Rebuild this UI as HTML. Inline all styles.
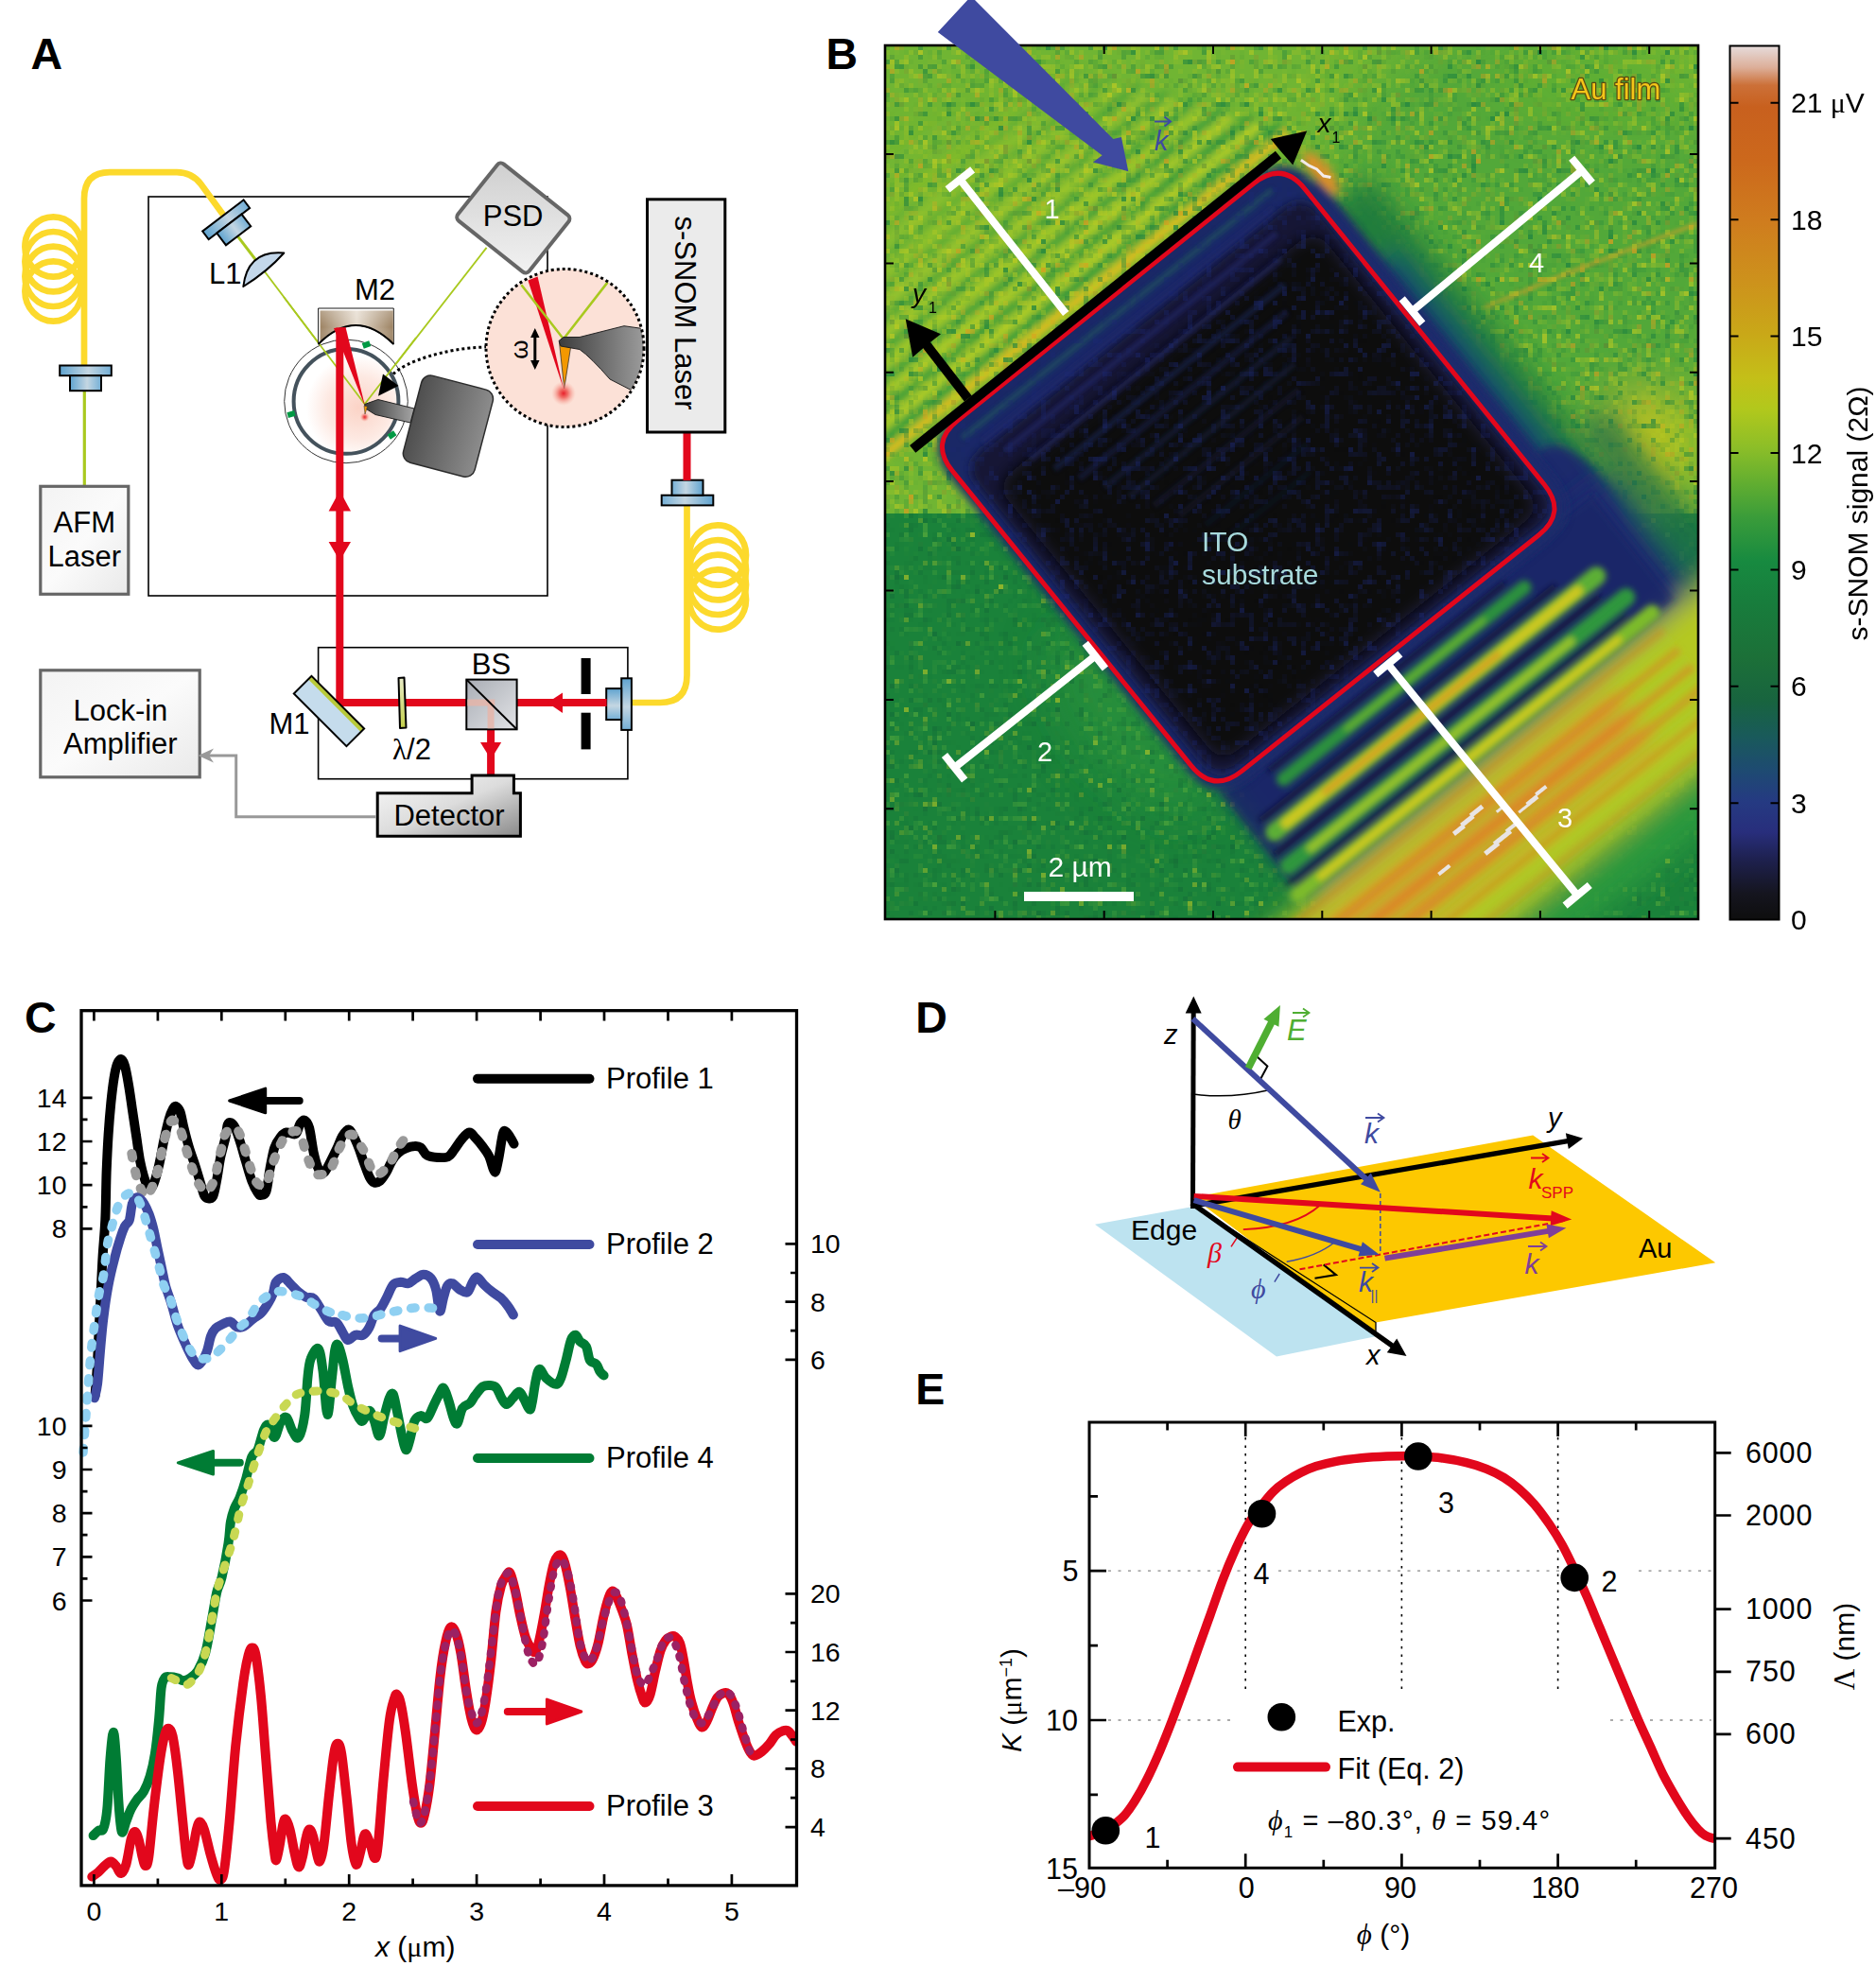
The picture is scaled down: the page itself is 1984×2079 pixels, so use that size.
<!DOCTYPE html>
<html><head><meta charset="utf-8"><title>Figure</title>
<style>
html,body{margin:0;padding:0;background:#fff;}
svg{display:block;}
text{font-family:"Liberation Sans",sans-serif;fill:#000;}
.it{font-style:italic;}
.ser{font-family:"Liberation Serif",serif;}
.b{font-weight:bold;}
</style></head>
<body>
<svg width="1984" height="2079" viewBox="0 0 1984 2079">
<defs>
<linearGradient id="gBlue" x1="0" y1="0" x2="1" y2="0"><stop offset="0" stop-color="#5fa3cf"/><stop offset="0.55" stop-color="#c4d6e2"/><stop offset="1" stop-color="#74afd6"/></linearGradient>
<linearGradient id="gBox" x1="0" y1="0" x2="1" y2="1"><stop offset="0" stop-color="#f3f3f3"/><stop offset="0.5" stop-color="#fbfbfb"/><stop offset="1" stop-color="#e9e9e9"/></linearGradient>
<linearGradient id="gPSD" x1="0" y1="0" x2="1" y2="1"><stop offset="0" stop-color="#cfcfcf"/><stop offset="1" stop-color="#f2f2f2"/></linearGradient>
<linearGradient id="gDet" x1="0" y1="0" x2="1" y2="1"><stop offset="0" stop-color="#fafafa"/><stop offset="0.5" stop-color="#dcdcdc"/><stop offset="1" stop-color="#8a8a8a"/></linearGradient>
<linearGradient id="gHold" x1="0" y1="0" x2="1" y2="0"><stop offset="0" stop-color="#4f4f4f"/><stop offset="1" stop-color="#8c8c8c"/></linearGradient>
<linearGradient id="gArm" x1="0" y1="0" x2="1" y2="0"><stop offset="0" stop-color="#3c3c3c"/><stop offset="1" stop-color="#a5a5a5"/></linearGradient>
<linearGradient id="gM2" x1="0" y1="0" x2="1" y2="0"><stop offset="0" stop-color="#9c8262"/><stop offset="0.5" stop-color="#e6dccf"/><stop offset="1" stop-color="#9c8262"/></linearGradient>
<radialGradient id="gPink" cx="0.62" cy="0.56" r="0.5"><stop offset="0" stop-color="#fbd3c6"/><stop offset="0.6" stop-color="#fde9e2"/><stop offset="1" stop-color="#ffffff"/></radialGradient>
<radialGradient id="gGlow"><stop offset="0" stop-color="#e8202a"/><stop offset="0.35" stop-color="#ee5b55" stop-opacity="0.85"/><stop offset="1" stop-color="#f8b0a0" stop-opacity="0"/></radialGradient>
<linearGradient id="gBS" x1="0" y1="0" x2="1" y2="1"><stop offset="0" stop-color="#a9adb5"/><stop offset="1" stop-color="#e2e3e6"/></linearGradient>
<linearGradient id="gHW" x1="0" y1="0" x2="0" y2="1"><stop offset="0" stop-color="#e9ecc8"/><stop offset="1" stop-color="#c3cf4a"/></linearGradient>
<linearGradient id="gM2b" x1="0" y1="0" x2="0" y2="1"><stop offset="0" stop-color="#fff" stop-opacity="0.25"/><stop offset="0.5" stop-color="#fff" stop-opacity="0"/><stop offset="1" stop-color="#7a6040" stop-opacity="0.35"/></linearGradient>
<clipPath id="cZoom"><circle cx="597.5" cy="368" r="83"/></clipPath>
<g id="coupler"><rect x="-27.3" y="0" width="54.6" height="10.7" fill="url(#gBlue)" stroke="#000" stroke-width="2"/><rect x="-16.5" y="10.7" width="33" height="16" fill="url(#gBlue)" stroke="#000" stroke-width="2"/></g>
</defs>
<rect width="1984" height="2079" fill="#fff"/>

<!-- ================= PANEL A ================= -->
<g id="panelA">
<text x="32.5" y="72.8" class="b" font-size="46.5">A</text>
<!-- enclosure -->
<rect x="157" y="208" width="422" height="422" fill="none" stroke="#000" stroke-width="1.6"/>
<rect x="336.6" y="684.7" width="327.3" height="139" fill="none" stroke="#000" stroke-width="1.6"/>
<!-- fibre AFM -->
<g fill="none" stroke="#fcd92c" stroke-width="6.7">
<path d="M89 386 V210 Q89 182.2 116 182.2 H187 Q203 182.2 212.7 195 L236 227"/>
<ellipse cx="56.4" cy="261" rx="30" ry="31.7"/><ellipse cx="56.4" cy="276.7" rx="30" ry="31.7"/><ellipse cx="56.4" cy="292.3" rx="30" ry="31.7"/><ellipse cx="56.4" cy="308" rx="30" ry="31.7"/>
<path d="M726.5 534 V714 Q726.5 743 698 743 H668"/>
<ellipse cx="759" cy="587" rx="30" ry="31.7"/><ellipse cx="759" cy="602.7" rx="30" ry="31.7"/><ellipse cx="759" cy="618.3" rx="30" ry="31.7"/><ellipse cx="759" cy="634" rx="30" ry="31.7"/>
</g>
<!-- green AFM beams -->
<g fill="none" stroke="#a9c91f" stroke-width="2.6">
<path d="M89.3 412 V514" stroke-width="3.2"/>
<path d="M250 248 L279 286" stroke-width="3"/><path d="M279 286 L385.7 427.3 L514.6 261.8" stroke-width="1.9"/>
</g>
<!-- couplers -->
<use href="#coupler" x="0" y="0" transform="translate(90.5 386.5)"/>
<use href="#coupler" transform="translate(235.9 228) rotate(-37.3)"/>
<use href="#coupler" transform="translate(727 534.4) rotate(180)"/>
<use href="#coupler" transform="translate(667.9 744.6) rotate(90)"/>
<!-- L1 lens -->
<path d="M257.3 303 Q262 264 300.3 267.5 Q283 287 257.3 303 Z" fill="#c3d7ea" stroke="#000" stroke-width="2" stroke-linejoin="round"/>
<text x="221" y="300" font-size="31">L1</text>
<!-- boxes -->
<rect x="42.8" y="514.3" width="93" height="114" fill="url(#gBox)" stroke="#666" stroke-width="3.2"/>
<text x="89.3" y="563" font-size="31" text-anchor="middle">AFM</text>
<text x="89.3" y="599" font-size="31" text-anchor="middle">Laser</text>
<rect x="42.8" y="708.8" width="168.4" height="113" fill="url(#gBox)" stroke="#666" stroke-width="3.2"/>
<text x="127.4" y="762" font-size="31" text-anchor="middle">Lock-in</text>
<text x="127.4" y="797" font-size="31" text-anchor="middle">Amplifier</text>
<!-- sample circle -->
<circle cx="366" cy="424.4" r="65.3" fill="#fff" stroke="#333" stroke-width="1"/>
<circle cx="366" cy="424.4" r="55.4" fill="url(#gPink)" stroke="#44525c" stroke-width="4"/>
<g fill="#009944">
<rect x="-4" y="-3" width="8" height="6" transform="translate(387.5 364.5) rotate(-20)"/>
<rect x="-4" y="-3" width="8" height="6" transform="translate(308 438) rotate(-15)"/>
<rect x="-4" y="-3" width="8" height="6" transform="translate(414.5 460) rotate(-35)"/>
</g>
<!-- green beams over circle -->
<g fill="none" stroke="#a9c91f" stroke-width="1.7"><path d="M300 314 L385.7 427.3 L440 357"/></g>
<!-- M2 -->
<path d="M336.6 326 H416.3 V364 Q376 324 336.6 364 Z" fill="#fff" stroke="#000" stroke-width="0.9"/>
<path d="M338.6 328.5 H415.8 V363.5 Q376 324.5 338.6 362 Z" fill="url(#gM2)"/>
<path d="M338.6 328.5 H415.8 V363.5 Q376 324.5 338.6 362 Z" fill="url(#gM2b)"/>
<path d="M336.6 364 Q376 324 416.3 364" fill="none" stroke="#000" stroke-width="2"/>
<text x="375" y="317" font-size="31">M2</text>
<!-- red beam -->
<g fill="#e2071c" stroke="none">
<rect x="355.3" y="346.5" width="8" height="400.5"/>
<polygon points="353,347 365.5,346 386.2,430"/>
<polygon points="359.3,519 371,540.5 347.6,540.5"/>
<polygon points="359.3,593 371,573 347.6,573"/>
<rect x="355.3" y="739" width="138" height="8"/>
<rect x="546.6" y="739" width="95" height="8"/>
<polygon points="579,743 595,732.5 595,754"/>
<rect x="515.1" y="771" width="8" height="48"/>
<polygon points="519.1,803 530.2,785 508,785"/>
<rect x="722.5" y="458" width="8" height="50"/>
</g>
<!-- cantilever -->
<rect x="-39" y="-47.5" width="78" height="95" rx="10" fill="url(#gHold)" stroke="#2b2b2b" stroke-width="1.5" transform="translate(473.9 450.7) rotate(14.7)"/>
<polygon points="385.7,427.5 399.8,422.5 438,432 434,447 397,438.5 386.5,432" fill="url(#gArm)" stroke="#222" stroke-width="1"/>
<circle cx="385.7" cy="441" r="5" fill="url(#gGlow)"/>
<polygon points="385,429 388.5,430 386,438" fill="#f39800" stroke="#333" stroke-width="0.5"/>
<!-- dotted connector -->
<path d="M416 395.5 C428 383 470 368 514 367" fill="none" stroke="#000" stroke-width="3" stroke-dasharray="3 3"/>
<polygon points="405,395.5 421.5,408 400,418.8" fill="#000"/>
<!-- PSD -->
<rect x="-48.2" y="-38.3" width="96.4" height="76.6" rx="5" fill="url(#gPSD)" stroke="#666" stroke-width="4" transform="translate(542.8 230.5) rotate(38.5)"/>
<text x="542.6" y="239" font-size="31" text-anchor="middle">PSD</text>
<!-- zoom circle -->
<circle cx="597.5" cy="368" r="83.5" fill="#fce1d7"/>
<g clip-path="url(#cZoom)">
<polygon points="558.4,296.5 568.6,292.5 596.2,412" fill="#e2071c"/>
<path d="M551.4 301.2 L595.9 358.5 L642.5 298.6" fill="none" stroke="#a9c91f" stroke-width="2.6"/>
<polygon points="591.5,362 603.5,367.5 596.7,411" fill="#f39800" stroke="#333" stroke-width="0.8"/>
<path d="M591 360.5 L596 356.5 L613 356.5 L660 344.7 L690 349 L690 415 L666.5 412 L645 401 Q625 378 613 369.5 L593 366 Z" fill="url(#gArm)" stroke="#222" stroke-width="1"/>
<circle cx="596" cy="416" r="13" fill="url(#gGlow)"/>
</g>
<circle cx="597.5" cy="368" r="83.5" fill="none" stroke="#000" stroke-width="3" stroke-dasharray="3 3"/>
<path d="M565.8 352 V386" stroke="#000" stroke-width="3" fill="none"/>
<polygon points="565.8,347 570.5,357 561.1,357" fill="#000"/><polygon points="565.8,391 570.5,381 561.1,381" fill="#000"/>
<text font-size="26" text-anchor="middle" transform="translate(558 369.5) rotate(-90)">ω</text>
<!-- s-SNOM laser -->
<rect x="684.5" y="210.8" width="82.3" height="246.2" fill="#ebebeb" stroke="#000" stroke-width="3"/>
<text font-size="31" text-anchor="middle" transform="translate(713.5 331) rotate(90)">s-SNOM Laser</text>
<!-- M1 -->
<g transform="translate(348 752) rotate(45)"><rect x="-39.4" y="-13.2" width="78.7" height="26.4" fill="#c5dcec" stroke="none"/><rect x="-39.4" y="-13.2" width="78.7" height="5" fill="#b9ca3a"/><rect x="-39.4" y="-13.2" width="78.7" height="26.4" fill="none" stroke="#000" stroke-width="2"/></g>
<text x="284.5" y="776" font-size="31">M1</text>
<!-- half wave plate -->
<polygon points="421.5,717 427.5,716.5 429.5,769.5 423,770" fill="url(#gHW)" stroke="#000" stroke-width="2" stroke-linejoin="round"/>
<text x="415" y="803" font-size="31"><tspan class="ser" font-size="31">λ</tspan>/2</text>
<!-- BS -->
<rect x="493.3" y="718.6" width="53.3" height="52.7" fill="url(#gBS)" stroke="#000" stroke-width="2"/>
<rect x="494.3" y="739.5" width="29" height="7" fill="#e7b4a8" opacity="0.8"/><rect x="515.6" y="743" width="7" height="27.3" fill="#e7b4a8" opacity="0.8"/>
<path d="M493.3 718.6 L546.6 771.3" stroke="#000" stroke-width="2"/>
<text x="519.5" y="713" font-size="31" text-anchor="middle">BS</text>
<!-- aperture -->
<rect x="614.6" y="696" width="10" height="38" fill="#000"/><rect x="614.6" y="753.7" width="10" height="38.7" fill="#000"/>
<!-- detector -->
<path d="M399.2 838.7 H499.1 V820 H543.4 V838.7 H550.4 V884.2 H399.2 Z" fill="url(#gDet)" stroke="#000" stroke-width="3"/>
<text x="475" y="873" font-size="31" text-anchor="middle">Detector</text>
<!-- gray wire -->
<path d="M397.7 863.8 H249.7 V799 H219" fill="none" stroke="#999" stroke-width="3"/>
<polygon points="209.5,799 226,791.5 221,799 226,806.5" fill="#999"/>
</g>
<!--BEGIN B-->
<!-- ================= PANEL B ================= -->
<g id="panelB">
<defs>
<clipPath id="cImg"><rect x="936" y="48" width="860" height="924"/></clipPath>
<clipPath id="cSq"><path d="M1007.1 497.8 Q983.2 468.3 1012.9 444.6 L1326.2 193.8 Q1355.9 170.1 1379.8 199.6 L1633.3 512.5 Q1657.2 542.0 1627.5 565.7 L1313.3 815.4 Q1283.6 839.1 1259.7 809.6 Z"/></clipPath>
<filter id="fB2" x="-40%" y="-40%" width="180%" height="180%"><feGaussianBlur stdDeviation="2"/></filter>
<filter id="fB3" x="-40%" y="-40%" width="180%" height="180%"><feGaussianBlur stdDeviation="3"/></filter>
<filter id="fB5" x="-40%" y="-40%" width="180%" height="180%"><feGaussianBlur stdDeviation="5"/></filter>
<filter id="fB8" x="-40%" y="-40%" width="180%" height="180%"><feGaussianBlur stdDeviation="8"/></filter>
<filter id="fB14" x="-40%" y="-40%" width="180%" height="180%"><feGaussianBlur stdDeviation="14"/></filter>
<filter id="fB25" x="-40%" y="-40%" width="180%" height="180%"><feGaussianBlur stdDeviation="25"/></filter>
<filter id="fPixT" x="0" y="0" width="100%" height="100%" filterUnits="objectBoundingBox" primitiveUnits="userSpaceOnUse" color-interpolation-filters="sRGB"><feTurbulence type="fractalNoise" baseFrequency="0.13" numOctaves="2" seed="3" result="n"/><feColorMatrix in="n" type="matrix" values="0 0 0 0 0.72  0 0 0 0 0.79  0 0 0 0 0.14  4.2 0 0 0 -2.2" result="m0"/><feColorMatrix in="n" type="matrix" values="0 0 0 0 0.13  0 0 0 0 0.52  0 0 0 0 0.25  0 4.2 0 0 -2.3" result="m1"/><feColorMatrix in="n" type="matrix" values="0 0 0 0 0.85  0 0 0 0 0.62  0 0 0 0 0.12  0 0 5 0 -3.25" result="m2"/><feMerge result="c"><feMergeNode in="m0"/><feMergeNode in="m1"/><feMergeNode in="m2"/></feMerge><feFlood x="938" y="50" width="1" height="1" flood-color="#000" result="f"/><feComposite in="f" in2="f" operator="over" x="936" y="48" width="5" height="5" result="t0"/><feTile in="t0" result="dots"/><feComposite in="c" in2="dots" operator="in" result="s"/><feMorphology in="s" operator="dilate" radius="2"/></filter>
<filter id="fPixB" x="0" y="0" width="100%" height="100%" filterUnits="objectBoundingBox" primitiveUnits="userSpaceOnUse" color-interpolation-filters="sRGB"><feTurbulence type="fractalNoise" baseFrequency="0.13" numOctaves="2" seed="11" result="n"/><feColorMatrix in="n" type="matrix" values="0 0 0 0 0.36  0 0 0 0 0.68  0 0 0 0 0.24  4.0 0 0 0 -2.35" result="m0"/><feColorMatrix in="n" type="matrix" values="0 0 0 0 0.08  0 0 0 0 0.42  0 0 0 0 0.22  0 3.5 0 0 -2.0" result="m1"/><feColorMatrix in="n" type="matrix" values="0 0 0 0 0.75  0 0 0 0 0.80  0 0 0 0 0.15  0 0 5 0 -3.3" result="m2"/><feMerge result="c"><feMergeNode in="m0"/><feMergeNode in="m1"/><feMergeNode in="m2"/></feMerge><feFlood x="938" y="545" width="1" height="1" flood-color="#000" result="f"/><feComposite in="f" in2="f" operator="over" x="936" y="543" width="5" height="5" result="t0"/><feTile in="t0" result="dots"/><feComposite in="c" in2="dots" operator="in" result="s"/><feMorphology in="s" operator="dilate" radius="2"/></filter>
<filter id="fPixK" x="0" y="0" width="100%" height="100%" filterUnits="objectBoundingBox" primitiveUnits="userSpaceOnUse" color-interpolation-filters="sRGB"><feTurbulence type="fractalNoise" baseFrequency="0.11" numOctaves="2" seed="19" result="n"/><feColorMatrix in="n" type="matrix" values="0 0 0 0 0.11  0 0 0 0 0.16  0 0 0 0 0.45  4.0 0 0 0 -2.1" result="m0"/><feMerge result="c"><feMergeNode in="m0"/></feMerge><feFlood x="938" y="50" width="1" height="1" flood-color="#000" result="f"/><feComposite in="f" in2="f" operator="over" x="936" y="48" width="5" height="5" result="t0"/><feTile in="t0" result="dots"/><feComposite in="c" in2="dots" operator="in" result="s"/><feMorphology in="s" operator="dilate" radius="2"/></filter>
<linearGradient id="gCB" x1="0" y1="1" x2="0" y2="0">
<stop offset="0.000" stop-color="#0e0e0e"/>
<stop offset="0.030" stop-color="#15151f"/>
<stop offset="0.070" stop-color="#1e2150"/>
<stop offset="0.100" stop-color="#282e7c"/>
<stop offset="0.135" stop-color="#253a82"/>
<stop offset="0.170" stop-color="#1e4a72"/>
<stop offset="0.210" stop-color="#195a5a"/>
<stop offset="0.250" stop-color="#18643f"/>
<stop offset="0.300" stop-color="#1c7038"/>
<stop offset="0.360" stop-color="#187c3c"/>
<stop offset="0.410" stop-color="#178a40"/>
<stop offset="0.460" stop-color="#3a9c3a"/>
<stop offset="0.500" stop-color="#62ae30"/>
<stop offset="0.540" stop-color="#8cbe28"/>
<stop offset="0.585" stop-color="#b2c81c"/>
<stop offset="0.620" stop-color="#c4bf18"/>
<stop offset="0.670" stop-color="#c9a818"/>
<stop offset="0.730" stop-color="#cd921c"/>
<stop offset="0.800" stop-color="#cf7c1e"/>
<stop offset="0.870" stop-color="#cc681c"/>
<stop offset="0.930" stop-color="#c8601e"/>
<stop offset="0.955" stop-color="#cc7038"/>
<stop offset="0.975" stop-color="#dcae98"/>
<stop offset="1.000" stop-color="#e6dcdc"/>
</linearGradient>
</defs>
<g clip-path="url(#cImg)">
<rect x="936" y="48" width="860" height="495" fill="#70b533"/>
<rect x="936" y="543" width="860" height="429" fill="#1a823a"/>
<g filter="url(#fB25)">
<ellipse cx="1620" cy="250" rx="230" ry="230" fill="#46a23a" opacity="0.7"/>
<ellipse cx="1738" cy="480" rx="42" ry="62" fill="#c6c61e" opacity="1"/>
<ellipse cx="1080" cy="300" rx="170" ry="170" fill="#8cc02c" opacity="0.5"/>
<ellipse cx="1700" cy="90" rx="120" ry="50" fill="#74b830" opacity="0.4"/>
<ellipse cx="1200" cy="760" rx="120" ry="60" fill="#2f9a3e" opacity="0.5" transform="rotate(51 1200 760)"/>
</g>
<g transform="translate(983.2 468.3) rotate(-38.66)">
<g filter="url(#fB3)">
<rect x="-60" y="-24.5" width="560" height="9" fill="#dcbc22" opacity="1.05"/>
<rect x="-60" y="-37.0" width="560" height="9" fill="#2f963c" opacity="0.72"/>
<rect x="-54" y="-49.5" width="536" height="9" fill="#bcd026" opacity="0.76"/>
<rect x="-54" y="-62.0" width="536" height="9" fill="#2f963c" opacity="0.64"/>
<rect x="-48" y="-74.5" width="512" height="9" fill="#bcd026" opacity="0.66"/>
<rect x="-48" y="-87.0" width="512" height="9" fill="#2f963c" opacity="0.56"/>
<rect x="-42" y="-99.5" width="488" height="9" fill="#bcd026" opacity="0.56"/>
<rect x="-42" y="-112.0" width="488" height="9" fill="#2f963c" opacity="0.48"/>
<rect x="-36" y="-124.5" width="464" height="9" fill="#bcd026" opacity="0.47"/>
<rect x="-36" y="-137.0" width="464" height="9" fill="#2f963c" opacity="0.40"/>
<rect x="-30" y="-149.5" width="440" height="9" fill="#bcd026" opacity="0.38"/>
<rect x="-30" y="-162.0" width="440" height="9" fill="#2f963c" opacity="0.32"/>
<rect x="-24" y="-174.5" width="416" height="9" fill="#bcd026" opacity="0.28"/>
<rect x="-24" y="-187.0" width="416" height="9" fill="#2f963c" opacity="0.24"/>
<rect x="-18" y="-199.5" width="392" height="9" fill="#bcd026" opacity="0.18"/>
<rect x="-18" y="-212.0" width="392" height="9" fill="#2f963c" opacity="0.16"/>
<rect x="-12" y="-224.5" width="368" height="9" fill="#bcd026" opacity="0.09"/>
<rect x="-12" y="-237.0" width="368" height="9" fill="#2f963c" opacity="0.08"/>
</g></g>
<rect x="936" y="48" width="860" height="495" filter="url(#fPixT)" opacity="0.75"/>
<rect x="936" y="543" width="860" height="429" filter="url(#fPixB)" opacity="0.7"/>
<path d="M1570 325 L1650 292 L1796 236" stroke="#d0a028" stroke-width="3.5" fill="none" opacity="0.75" filter="url(#fB2)"/>
<g transform="translate(1355.9 170.1) rotate(50.99)">
<g filter="url(#fB14)">
<rect x="70" y="-62" width="470" height="64" fill="#1c7a3c" opacity="0.95"/>
<rect x="150" y="-34" width="390" height="40" fill="#1a3c74" opacity="0.9"/>
</g>
<g filter="url(#fB5)">
<rect x="40" y="-17" width="480" height="22" fill="#1c2a6c"/>
<ellipse cx="36" cy="-24" rx="28" ry="10" fill="#d8902a"/>
<ellipse cx="470" cy="-22" rx="60" ry="30" fill="#1c2a6c"/>
</g>
<path d="M12 -16 l10 -3 l8 -4 l10 -1 l6 -5" stroke="#f4ecec" stroke-width="3" fill="none"/>
</g>
<g transform="translate(1283.6 839.1) rotate(-38.49)">
<g filter="url(#fB14)">
<rect x="18" y="-5" width="515" height="160" fill="#1c2c70"/>
<rect x="-200" y="150" width="760" height="150" fill="#b4c822"/>
<rect x="-120" y="176" width="520" height="72" fill="#d8962a"/>
<rect x="-200" y="305" width="760" height="50" fill="#2c983c"/>
<rect x="540" y="-60" width="40" height="210" fill="#1d6a4a" opacity="0.8"/>
</g>
<g filter="url(#fB5)">
<rect x="6" y="2" width="504" height="140" fill="#1b2766" opacity="0.85"/>
</g>
<g filter="url(#fB3)" id="brs">
<rect x="-160" y="156.5" width="640" height="9" fill="#d8821e" opacity="0.40"/>
<rect x="-160" y="169.5" width="640" height="8" fill="#a8c824" opacity="0.32"/>
<rect x="-160" y="182.5" width="640" height="9" fill="#d8821e" opacity="0.50"/>
<rect x="-160" y="195.5" width="640" height="8" fill="#a8c824" opacity="0.40"/>
<rect x="-160" y="205.5" width="640" height="9" fill="#d8821e" opacity="0.55"/>
<rect x="-160" y="218.5" width="640" height="8" fill="#a8c824" opacity="0.44"/>
<rect x="-160" y="229.5" width="640" height="9" fill="#d8821e" opacity="0.50"/>
<rect x="-160" y="242.5" width="640" height="8" fill="#a8c824" opacity="0.40"/>
<rect x="-160" y="255.5" width="640" height="9" fill="#d8821e" opacity="0.40"/>
<rect x="-160" y="268.5" width="640" height="8" fill="#a8c824" opacity="0.32"/>
<rect x="-160" y="280.5" width="640" height="9" fill="#d8821e" opacity="0.30"/>
<rect x="-160" y="293.5" width="640" height="8" fill="#a8c824" opacity="0.24"/>
<rect x="60" y="26.5" width="340" height="15" rx="7" fill="#2a8f3e" opacity="1.00"/>
<rect x="150" y="31.0" width="190" height="6" rx="3" fill="#6ab430" opacity="0.90"/>
<rect x="15" y="62.0" width="455" height="20" rx="10" fill="#5cae34" opacity="1.00"/>
<rect x="35" y="66.5" width="405" height="11" rx="5" fill="#cdc81e" opacity="1.00"/>
<rect x="90" y="69.5" width="240" height="5" rx="2" fill="#dc8c1e" opacity="0.85"/>
<rect x="5" y="99.5" width="475" height="19" rx="9" fill="#2f963c" opacity="1.00"/>
<rect x="40" y="104.5" width="360" height="9" rx="4" fill="#9cc42a" opacity="0.95"/>
<rect x="-5" y="130.5" width="495" height="17" rx="8" fill="#7cba2c" opacity="1.00"/>
<rect x="30" y="135.0" width="410" height="8" rx="4" fill="#ccc81e" opacity="1.00"/>
<rect x="60" y="14.5" width="320" height="5" rx="2" fill="#10122c" opacity="0.90"/>
<rect x="20" y="50.5" width="400" height="5" rx="2" fill="#10122c" opacity="0.90"/>
<rect x="10" y="88.5" width="440" height="5" rx="2" fill="#10122c" opacity="0.90"/>
<rect x="0" y="122.0" width="460" height="4" rx="2" fill="#10122c" opacity="0.90"/>
</g>
<g fill="#e8e4e4"><path d="M172 189 h12 v-2 h14 v-2 h16 v5 h-14 v2 h-14 v2 h-14z M185 226 h14 v-2 h18 v-2 h18 v4 h-14 v3 h-18 v2 h-18z M240 215 h12 v-2 h14 v-2 h14 v4 h-14 v3 h-26z M133 213 h15 v4 h-15z M222 200 h9 v3 h-9z"/></g>
</g>
<path d="M1005.0 504.7 Q976.0 468.9 1011.9 440.2 L1326.8 188.2 Q1362.8 159.5 1391.7 195.2 L1643.9 506.6 Q1672.9 542.3 1636.9 570.9 L1321.2 822.0 Q1285.2 850.6 1256.2 814.9 Z" fill="#1b2a6c" filter="url(#fB5)"/>
<path d="M1007.1 497.8 Q983.2 468.3 1012.9 444.6 L1326.2 193.8 Q1355.9 170.1 1379.8 199.6 L1633.3 512.5 Q1657.2 542.0 1627.5 565.7 L1313.3 815.4 Q1283.6 839.1 1259.7 809.6 Z" fill="#1a2866"/>
<g clip-path="url(#cSq)">
<path d="M1034.6 514.3 Q1017.0 492.5 1038.8 475.0 L1356.1 221.2 Q1378.0 203.7 1395.6 225.4 L1632.0 517.3 Q1649.7 539.1 1627.7 556.5 L1309.7 809.4 Q1287.8 826.8 1270.2 805.1 Z" fill="#131735" filter="url(#fB5)"/>
<path d="M1067.7 531.3 Q1052.6 512.7 1071.3 497.7 L1372.2 256.9 Q1390.9 242.0 1406.1 260.6 L1615.4 519.0 Q1630.5 537.7 1611.7 552.6 L1310.1 792.4 Q1291.4 807.4 1276.3 788.7 Z" fill="#0b0b0f" filter="url(#fB8)"/>
<g transform="translate(983.2 468.3) rotate(-38.66)" filter="url(#fB2)">
<rect x="44" y="30.5" width="395" height="7" fill="#1d2a6e" opacity="0.50"/>
<rect x="57" y="52.5" width="368" height="7" fill="#1d2a6e" opacity="0.55"/>
<rect x="72" y="76.5" width="340" height="7" fill="#1d2a6e" opacity="0.50"/>
<rect x="86" y="100.5" width="311" height="7" fill="#1d2a6e" opacity="0.42"/>
<rect x="100" y="124.5" width="282" height="7" fill="#1d2a6e" opacity="0.36"/>
<rect x="115" y="148.5" width="253" height="7" fill="#1d2a6e" opacity="0.30"/>
<rect x="129" y="172.5" width="224" height="7" fill="#1d2a6e" opacity="0.26"/>
<rect x="144" y="196.5" width="196" height="7" fill="#1d2a6e" opacity="0.22"/>
<rect x="159" y="221.5" width="166" height="7" fill="#1d2a6e" opacity="0.18"/>
<rect x="174" y="246.5" width="136" height="7" fill="#1d2a6e" opacity="0.15"/>
<rect x="189" y="271.5" width="106" height="7" fill="#1d2a6e" opacity="0.12"/>
<rect x="30" y="14" width="420" height="7" fill="#1f5c5e" opacity="0.5"/>
</g>
<rect x="936" y="48" width="860" height="924" filter="url(#fPixK)" opacity="0.5"/>
</g>
</g>
<path d="M1007.1 497.8 Q983.2 468.3 1012.9 444.6 L1326.2 193.8 Q1355.9 170.1 1379.8 199.6 L1633.3 512.5 Q1657.2 542.0 1627.5 565.7 L1313.3 815.4 Q1283.6 839.1 1259.7 809.6 Z" fill="none" stroke="#e2071c" stroke-width="5"/>
<g fill="#000" stroke="none">
<path d="M965.2 474.8 L1352 163.6" stroke="#000" stroke-width="10" fill="none"/>
<polygon points="1382.2,138.4 1343.8,146.9 1355,160.5 1367.3,174.6"/>
<path d="M1023.8 421.5 L977 361" stroke="#000" stroke-width="10" fill="none"/>
<polygon points="957.7,337.3 995,353.3 980,365 965.2,377.8"/>
</g>
<text x="1221" y="159" font-size="29" class="it" style="fill:#3f4aa0">k</text>
<path d="M1221 128.5 H1237 M1231.5 123.5 L1238 128.5 L1231.5 133.5" fill="none" stroke="#3f4aa0" stroke-width="2"/>
<path d="M1015.3 189.8 L1127.2 331.6 M1002.0 200.3 L1028.6 179.3" fill="none" stroke="#fff" stroke-width="8"/>
<path d="M1158.3 693.6 L1009.6 811.7 M1147.7 680.3 L1168.9 706.9 M999.0 798.4 L1020.2 825.0" fill="none" stroke="#fff" stroke-width="8"/>
<path d="M1467.8 702.3 L1668.2 946.8 M1454.7 713.1 L1480.9 691.5 M1655.1 957.6 L1681.3 936.0" fill="none" stroke="#fff" stroke-width="8"/>
<path d="M1493.5 329.0 L1673.0 180.3 M1504.3 342.1 L1482.7 315.9 M1683.8 193.4 L1662.2 167.2" fill="none" stroke="#fff" stroke-width="8"/>
<g font-size="29" style="fill:#fff" fill="#fff">
<text x="1104.5" y="230.5" style="fill:#fff">1</text>
<text x="1097" y="804.5" style="fill:#fff">2</text>
<text x="1647" y="874.5" style="fill:#fff">3</text>
<text x="1617" y="287.5" style="fill:#fff">4</text>
<text x="1108.5" y="927" font-size="30" style="fill:#fff">2 µm</text>
</g>
<rect x="1083" y="943" width="116" height="10" fill="#fff"/>
<text x="1393.5" y="139.5" font-size="28" class="it">x</text><text x="1408.5" y="150.5" font-size="16">1</text>
<text x="965" y="320" font-size="28" class="it">y</text><text x="982" y="331" font-size="16">1</text>
<text x="1271" y="582.5" font-size="30" style="fill:#a8dadc">ITO</text><text x="1271" y="618" font-size="30" style="fill:#a8dadc">substrate</text>
<text x="1661.5" y="104.6" font-size="31" style="fill:#5a4a10;stroke:#5a4a10;stroke-width:2.5;stroke-linejoin:round">Au film</text>
<text x="1661.5" y="104.6" font-size="31" style="fill:#f5c518">Au film</text>
<rect x="936" y="48" width="860" height="924" fill="none" stroke="#000" stroke-width="2.6"/>
<path d="M1052.4 48 v9 M1052.4 972 v-9 M1167.7 48 v9 M1167.7 972 v-9 M1283.0 48 v9 M1283.0 972 v-9 M1398.3 48 v9 M1398.3 972 v-9 M1513.6 48 v9 M1513.6 972 v-9 M1628.9 48 v9 M1628.9 972 v-9 M1744.2 48 v9 M1744.2 972 v-9 M936 163.1 h9 M1796 163.1 h-9 M936 278.4 h9 M1796 278.4 h-9 M936 393.8 h9 M1796 393.8 h-9 M936 509.1 h9 M1796 509.1 h-9 M936 624.5 h9 M1796 624.5 h-9 M936 739.9 h9 M1796 739.9 h-9 M936 855.2 h9 M1796 855.2 h-9" stroke="#000" stroke-width="2" fill="none"/>
<polygon points="991.8,34.1 1027,-4 1177.3,147.1 1185.9,145 1193.3,181.2 1156,171.6 1165.6,164.2" fill="#3f4aa0"/>
<rect x="1829.5" y="48.5" width="52" height="924" fill="url(#gCB)" stroke="#000" stroke-width="2"/>
<text x="1894" y="983.1" font-size="30">0</text>
<text x="1894" y="859.7" font-size="30">3</text>
<text x="1894" y="736.3" font-size="30">6</text>
<text x="1894" y="612.9" font-size="30">9</text>
<text x="1894" y="489.5" font-size="30">12</text>
<text x="1894" y="366.1" font-size="30">15</text>
<text x="1894" y="242.7" font-size="30">18</text>
<text x="1894" y="119.3" font-size="30">21 <tspan class="ser" font-size="30">μ</tspan>V</text>
<path d="M1829.5 849.2 h9 M1881.5 849.2 h-9 M1829.5 725.8 h9 M1881.5 725.8 h-9 M1829.5 602.4 h9 M1881.5 602.4 h-9 M1829.5 479.0 h9 M1881.5 479.0 h-9 M1829.5 355.6 h9 M1881.5 355.6 h-9 M1829.5 232.2 h9 M1881.5 232.2 h-9 M1829.5 108.8 h9 M1881.5 108.8 h-9" stroke="#000" stroke-width="2" fill="none"/>
<text font-size="30" text-anchor="middle" transform="translate(1975 543) rotate(-90)">s-SNOM signal (2Ω)</text>
<text x="873.5" y="72.8" class="b" font-size="46.5">B</text>
</g>
<!--END B-->
<!--BEGIN C-->
<!-- ================= PANEL C ================= -->
<g id="panelC">
<text x="26" y="1092" class="b" font-size="46.5">C</text>
<clipPath id="cC"><rect x="80" y="1069" width="762" height="925"/></clipPath>
<g fill="none" stroke-linecap="round" stroke-linejoin="round" clip-path="url(#cC)">
<path d="M100.5 1476.0 C100.8 1471.7 101.8 1461.0 102.5 1450.0 C103.2 1439.0 103.8 1423.3 104.5 1410.0 C105.2 1396.7 105.8 1383.3 106.5 1370.0 C107.2 1356.7 107.7 1343.3 108.5 1330.0 C109.3 1316.7 110.6 1305.0 111.3 1290.0 C112.0 1275.0 112.1 1254.9 112.6 1239.9 C113.2 1224.9 113.8 1212.1 114.6 1199.9 C115.4 1187.7 116.3 1176.6 117.3 1166.6 C118.3 1156.6 119.5 1146.8 120.6 1139.9 C121.7 1133.1 122.7 1128.6 123.9 1125.3 C125.2 1122.0 126.6 1119.7 127.9 1120.0 C129.3 1120.2 130.6 1122.2 131.9 1126.6 C133.3 1131.1 134.6 1138.8 135.9 1146.6 C137.3 1154.4 138.6 1164.4 139.9 1173.3 C141.3 1182.1 142.6 1191.0 143.9 1199.9 C145.3 1208.8 146.4 1218.6 147.9 1226.6 C149.5 1234.6 151.6 1242.8 153.3 1247.9 C154.9 1253.0 156.4 1256.6 157.9 1257.2 C159.5 1257.9 160.9 1255.9 162.6 1251.9 C164.2 1247.9 166.1 1240.8 167.9 1233.2 C169.7 1225.7 171.5 1214.8 173.2 1206.6 C175.0 1198.4 177.0 1189.5 178.6 1183.9 C180.1 1178.4 181.3 1175.6 182.6 1173.3 C183.8 1170.9 184.6 1169.5 185.9 1169.9 C187.2 1170.4 189.1 1172.0 190.6 1175.9 C192.0 1179.8 193.0 1187.0 194.6 1193.3 C196.1 1199.5 197.9 1206.6 199.9 1213.2 C201.9 1219.9 204.6 1227.0 206.6 1233.2 C208.6 1239.4 210.3 1245.4 211.9 1250.6 C213.4 1255.7 214.6 1261.1 215.9 1263.9 C217.2 1266.7 218.3 1267.0 219.9 1267.2 C221.4 1267.4 223.7 1268.4 225.2 1265.2 C226.8 1262.0 227.9 1254.8 229.2 1247.9 C230.5 1241.0 231.7 1231.5 233.2 1223.9 C234.8 1216.4 237.3 1208.3 238.5 1202.6 C239.8 1196.9 239.8 1192.1 240.7 1189.5 C241.6 1187.0 242.6 1186.6 243.9 1187.1 C245.2 1187.7 247.0 1189.1 248.7 1192.7 C250.4 1196.3 252.4 1202.9 254.3 1208.7 C256.2 1214.6 257.9 1221.3 259.9 1227.9 C261.9 1234.6 264.2 1243.1 266.3 1248.7 C268.4 1254.3 271.1 1259.0 272.7 1261.5 C274.3 1264.0 274.4 1264.2 275.9 1263.9 C277.4 1263.6 279.9 1264.6 281.5 1259.9 C283.1 1255.2 284.0 1243.6 285.5 1235.9 C287.0 1228.2 288.4 1219.1 290.3 1213.5 C292.2 1207.9 294.6 1205.0 296.7 1202.3 C298.8 1199.7 300.4 1198.1 303.1 1197.5 C305.7 1197.0 310.3 1200.7 312.7 1199.1 C315.1 1197.5 315.9 1190.3 317.5 1187.9 C319.1 1185.5 320.7 1183.9 322.3 1184.7 C323.9 1185.5 325.5 1186.9 327.1 1192.7 C328.7 1198.6 330.3 1212.7 331.9 1219.9 C333.5 1227.1 335.1 1232.5 336.7 1235.9 C338.3 1239.4 339.9 1240.8 341.5 1240.7 C343.0 1240.6 343.6 1239.3 346.0 1235.2 C348.3 1231.0 352.9 1221.6 355.6 1216.0 C358.3 1210.4 359.9 1205.2 362.0 1201.6 C364.1 1198.0 366.4 1194.4 368.4 1194.4 C370.4 1194.4 372.1 1198.2 374.0 1201.6 C375.8 1204.9 377.7 1209.6 379.6 1214.4 C381.4 1219.2 383.3 1225.3 385.2 1230.4 C387.0 1235.4 389.0 1241.4 390.8 1244.8 C392.5 1248.1 393.7 1249.7 395.6 1250.4 C397.4 1251.0 399.8 1250.5 402.0 1248.8 C404.1 1247.0 406.2 1243.6 408.4 1240.0 C410.5 1236.4 412.6 1230.6 414.8 1227.2 C416.9 1223.7 418.8 1221.3 421.2 1219.2 C423.6 1217.0 426.2 1215.6 429.2 1214.4 C432.1 1213.2 436.1 1212.1 438.7 1212.0 C441.4 1211.8 443.0 1212.0 445.1 1213.6 C447.3 1215.2 448.6 1219.8 451.5 1221.6 C454.5 1223.3 459.0 1223.7 462.7 1224.0 C466.5 1224.2 471.0 1224.5 473.9 1223.2 C476.9 1221.8 477.9 1219.0 480.3 1216.0 C482.7 1212.9 485.7 1207.8 488.3 1204.8 C491.0 1201.7 493.9 1197.8 496.3 1197.6 C498.7 1197.3 500.3 1200.6 502.7 1203.2 C505.1 1205.7 508.3 1209.6 510.7 1212.8 C513.1 1216.0 515.2 1218.4 517.1 1222.4 C519.0 1226.4 520.7 1234.1 521.9 1236.8 C523.1 1239.4 523.4 1240.5 524.3 1238.4 C525.2 1236.2 526.4 1229.6 527.5 1224.0 C528.6 1218.4 529.8 1209.4 530.7 1204.8 C531.6 1200.1 531.9 1196.8 533.1 1196.0 C534.3 1195.2 536.2 1197.7 537.9 1200.0 C539.6 1202.2 542.6 1208.0 543.5 1209.6" stroke="#000" stroke-width="10"/>
<path d="M139.3 1219.9 C139.9 1223.2 141.9 1234.3 143.3 1239.9 C144.6 1245.4 145.4 1249.0 147.3 1253.2 C149.1 1257.4 151.8 1266.1 154.6 1265.2 C157.4 1264.3 161.5 1254.3 163.9 1247.9 C166.4 1241.4 167.7 1233.2 169.2 1226.6 C170.8 1219.9 171.7 1213.9 173.2 1207.9 C174.8 1201.9 176.9 1194.5 178.6 1190.6 C180.2 1186.7 181.2 1183.9 183.2 1184.6 C185.2 1185.3 188.5 1190.0 190.6 1194.6 C192.7 1199.1 194.1 1206.1 195.9 1211.9 C197.7 1217.7 199.4 1223.9 201.2 1229.2 C203.0 1234.6 204.8 1239.7 206.6 1243.9 C208.3 1248.1 209.9 1251.9 211.9 1254.6 C213.9 1257.2 216.1 1261.0 218.6 1259.9 C221.0 1258.8 224.4 1253.4 226.5 1247.9 C228.7 1242.3 229.9 1232.3 231.2 1226.6 C232.5 1220.8 233.8 1217.0 234.5 1213.2 C235.3 1209.5 234.9 1206.8 235.9 1203.9 C236.9 1201.0 239.0 1197.7 240.7 1195.9 C242.4 1194.2 244.4 1193.5 246.3 1193.5 C248.2 1193.5 249.9 1192.6 251.9 1195.9 C253.9 1199.3 255.9 1206.3 258.3 1213.5 C260.7 1220.7 263.9 1232.7 266.3 1239.1 C268.7 1245.5 270.2 1249.8 272.7 1251.9 C275.2 1254.0 278.8 1255.6 281.5 1251.9 C284.2 1248.2 286.4 1235.9 288.7 1229.5 C291.0 1223.1 293.0 1218.1 295.1 1213.5 C297.2 1209.0 298.6 1205.3 301.5 1202.3 C304.4 1199.4 309.7 1195.7 312.7 1195.9 C315.6 1196.2 317.2 1199.9 319.1 1203.9 C320.9 1207.9 322.0 1214.6 323.9 1219.9 C325.7 1225.3 328.1 1232.2 330.3 1235.9 C332.4 1239.6 333.8 1241.9 336.7 1242.3 C339.6 1242.7 344.7 1240.9 347.6 1238.4 C350.5 1235.8 352.1 1231.2 354.0 1227.2 C355.9 1223.2 356.9 1218.4 358.8 1214.4 C360.7 1210.4 362.8 1205.6 365.2 1203.2 C367.6 1200.8 370.5 1198.6 373.2 1200.0 C375.8 1201.3 378.9 1207.7 381.2 1211.2 C383.4 1214.6 384.9 1216.8 386.8 1220.8 C388.6 1224.8 390.4 1231.7 392.4 1235.2 C394.4 1238.6 396.6 1241.0 398.8 1241.6 C400.9 1242.1 402.8 1240.5 405.2 1238.4 C407.6 1236.2 410.8 1232.5 413.2 1228.8 C415.6 1225.0 417.2 1220.0 419.6 1216.0 C422.0 1212.0 425.7 1207.0 427.6 1204.8 C429.4 1202.5 430.2 1202.8 430.8 1202.4" stroke="#9a9a9a" stroke-width="10" stroke-dasharray="4.5 14.5"/>
<path d="M98.6 1941.1 C99.5 1940.2 102.2 1937.0 104.0 1935.8 C105.8 1934.6 107.8 1937.7 109.3 1933.9 C110.9 1930.1 112.1 1925.5 113.3 1913.1 C114.5 1900.8 115.4 1873.4 116.5 1859.8 C117.6 1846.3 118.9 1831.8 120.0 1831.8 C121.0 1831.8 122.0 1847.2 122.9 1859.8 C123.8 1872.5 124.6 1894.9 125.6 1907.8 C126.5 1920.7 127.5 1934.0 128.8 1937.1 C130.1 1940.2 131.7 1930.5 133.3 1926.5 C134.9 1922.5 136.6 1917.1 138.6 1913.1 C140.6 1909.1 143.1 1905.6 145.3 1902.5 C147.5 1899.4 149.7 1898.5 152.0 1894.5 C154.2 1890.5 156.6 1885.1 158.6 1878.5 C160.6 1871.8 162.4 1864.3 163.9 1854.5 C165.5 1844.7 166.8 1831.4 167.9 1819.9 C169.1 1808.3 169.6 1792.8 170.6 1785.2 C171.6 1777.7 172.5 1776.5 174.1 1774.5 C175.6 1772.5 177.6 1773.2 179.9 1773.2 C182.2 1773.2 185.7 1773.9 187.9 1774.5 C190.2 1775.2 191.0 1777.2 193.3 1777.2 C195.5 1777.2 198.6 1776.3 201.3 1774.5 C203.9 1772.8 206.6 1771.0 209.3 1766.5 C211.9 1762.1 214.8 1756.8 217.2 1747.9 C219.7 1739.0 221.9 1723.9 223.9 1713.2 C225.9 1702.6 227.5 1691.5 229.2 1683.9 C231.0 1676.4 232.5 1676.6 234.6 1667.9 C236.6 1659.3 240.0 1641.6 241.5 1631.9 C243.1 1622.1 242.8 1615.6 243.9 1609.5 C245.0 1603.3 246.3 1599.4 247.9 1595.1 C249.5 1590.8 251.5 1589.0 253.5 1583.9 C255.5 1578.8 257.8 1571.9 259.9 1564.7 C262.0 1557.5 264.2 1546.0 266.3 1540.7 C268.4 1535.4 270.6 1537.5 272.7 1532.7 C274.8 1527.9 277.2 1516.2 279.1 1511.9 C281.0 1507.7 282.0 1505.8 283.9 1507.1 C285.8 1508.5 288.2 1520.5 290.3 1519.9 C292.4 1519.4 294.6 1507.4 296.7 1503.9 C298.8 1500.5 301.0 1497.5 303.1 1499.1 C305.2 1500.7 307.3 1510.1 309.5 1513.5 C311.6 1517.0 313.7 1522.9 315.9 1519.9 C318.0 1517.0 320.7 1506.6 322.3 1495.9 C323.9 1485.3 324.4 1465.8 325.5 1456.0 C326.5 1446.1 326.8 1441.7 328.7 1436.8 C330.5 1431.8 334.5 1424.2 336.7 1426.4 C338.8 1428.5 339.9 1438.0 341.5 1449.6 C343.1 1461.2 344.7 1494.9 346.3 1495.9 C347.9 1497.0 349.7 1467.4 351.1 1456.0 C352.4 1444.5 353.2 1432.8 354.3 1427.2 C355.3 1421.6 356.1 1420.5 357.5 1422.4 C358.8 1424.3 360.8 1431.3 362.5 1438.5 C364.2 1445.6 366.1 1457.1 367.8 1465.1 C369.6 1473.1 371.2 1480.7 373.2 1486.4 C375.2 1492.2 378.1 1497.1 379.8 1499.8 C381.6 1502.4 382.1 1503.8 383.8 1502.4 C385.6 1501.1 388.5 1491.8 390.5 1491.8 C392.5 1491.8 394.0 1498.0 395.8 1502.4 C397.6 1506.9 399.4 1519.3 401.2 1518.4 C402.9 1517.5 404.7 1503.8 406.5 1497.1 C408.3 1490.4 410.3 1482.2 411.8 1478.4 C413.4 1474.7 414.5 1472.2 415.8 1474.4 C417.1 1476.7 418.3 1484.4 419.8 1491.8 C421.4 1499.1 423.6 1511.5 425.1 1518.4 C426.7 1525.3 427.8 1532.2 429.1 1533.1 C430.5 1534.0 431.6 1528.9 433.1 1523.8 C434.7 1518.6 436.5 1506.9 438.5 1502.4 C440.5 1498.0 442.9 1497.5 445.1 1497.1 C447.3 1496.7 449.6 1501.5 451.8 1499.8 C454.0 1498.0 456.5 1490.4 458.5 1486.4 C460.5 1482.4 462.0 1478.9 463.8 1475.8 C465.6 1472.7 467.3 1466.9 469.1 1467.8 C470.9 1468.7 472.7 1475.8 474.4 1481.1 C476.2 1486.4 478.2 1495.8 479.8 1499.8 C481.3 1503.8 482.2 1506.9 483.8 1505.1 C485.3 1503.3 486.9 1492.7 489.1 1489.1 C491.3 1485.6 494.9 1486.0 497.1 1483.8 C499.3 1481.6 500.2 1478.7 502.4 1475.8 C504.7 1472.9 507.8 1468.2 510.4 1466.4 C513.1 1464.7 516.0 1464.9 518.4 1465.1 C520.9 1465.3 523.1 1465.6 525.1 1467.8 C527.1 1470.0 528.6 1475.6 530.4 1478.4 C532.2 1481.3 533.7 1485.1 535.7 1485.1 C537.7 1485.1 540.2 1480.7 542.4 1478.4 C544.6 1476.2 547.1 1471.6 549.1 1471.8 C551.1 1472.0 552.6 1476.7 554.4 1479.8 C556.2 1482.9 558.6 1489.8 560.0 1490.4 C561.4 1491.1 561.5 1488.9 562.6 1483.8 C563.7 1478.7 565.3 1465.8 566.6 1459.8 C567.9 1453.8 568.8 1448.2 570.6 1447.8 C572.4 1447.3 574.4 1454.5 577.3 1457.1 C580.2 1459.8 585.3 1463.8 587.9 1463.8 C590.6 1463.8 591.5 1461.3 593.3 1457.1 C595.0 1452.9 596.8 1445.1 598.6 1438.5 C600.4 1431.8 602.2 1421.6 603.9 1417.1 C605.6 1412.7 607.2 1411.6 608.7 1411.8 C610.3 1412.0 611.4 1416.5 613.3 1418.5 C615.1 1420.5 618.1 1420.5 619.9 1423.8 C621.7 1427.1 622.1 1435.4 623.9 1438.5 C625.7 1441.6 628.8 1440.5 630.6 1442.5 C632.4 1444.5 633.2 1448.5 634.6 1450.5 C635.9 1452.5 637.9 1453.8 638.6 1454.5" stroke="#007c34" stroke-width="10"/>
<path d="M181.3 1774.5 C183.3 1775.4 190.4 1778.8 193.3 1779.9 C196.1 1781.0 196.6 1782.1 198.6 1781.2 C200.6 1780.3 203.0 1777.4 205.3 1774.5 C207.5 1771.7 209.7 1769.2 211.9 1763.9 C214.1 1758.6 216.6 1751.0 218.6 1742.6 C220.6 1734.1 222.1 1723.0 223.9 1713.2 C225.7 1703.5 227.5 1691.9 229.2 1683.9 C231.0 1675.9 231.9 1673.9 234.6 1665.3 C237.3 1656.6 242.9 1640.6 245.5 1631.9 C248.1 1623.1 248.7 1619.3 250.3 1612.7 C251.9 1606.0 253.2 1598.6 255.1 1591.9 C257.0 1585.2 259.4 1579.4 261.5 1572.7 C263.6 1566.0 265.8 1558.6 267.9 1551.9 C270.0 1545.2 271.9 1539.4 274.3 1532.7 C276.7 1526.1 279.6 1517.3 282.3 1511.9 C285.0 1506.6 287.4 1504.7 290.3 1500.7 C293.2 1496.7 296.2 1492.2 299.9 1487.9 C303.6 1483.7 308.4 1477.8 312.7 1475.1 C316.9 1472.5 320.7 1472.6 325.5 1471.9 C330.3 1471.3 335.7 1470.6 341.5 1471.1 C347.2 1471.7 354.5 1472.8 360.0 1475.1 C365.5 1477.5 369.4 1482.1 374.5 1485.1 C379.6 1488.1 385.2 1490.7 390.5 1493.1 C395.8 1495.5 401.2 1497.8 406.5 1499.8 C411.8 1501.8 417.1 1503.3 422.5 1505.1 C427.8 1506.9 434.5 1509.3 438.5 1510.4 C442.5 1511.5 445.1 1511.5 446.5 1511.8" stroke="#c8d852" stroke-width="9" stroke-dasharray="5 13.5"/>
<path d="M100.0 1478.3 C100.5 1475.7 102.1 1471.4 103.2 1462.4 C104.2 1453.3 105.3 1435.7 106.4 1424.0 C107.4 1412.2 108.2 1402.6 109.6 1392.0 C110.9 1381.3 112.5 1370.0 114.4 1360.0 C116.2 1350.0 118.6 1340.3 120.8 1331.9 C122.9 1323.4 125.3 1315.3 127.2 1309.5 C129.0 1303.6 130.4 1299.9 132.0 1296.7 C133.6 1293.5 135.4 1294.3 136.8 1290.3 C138.1 1286.3 138.6 1276.7 140.0 1272.7 C141.3 1268.7 142.9 1266.6 144.8 1266.3 C146.6 1266.0 149.0 1268.2 151.2 1271.1 C153.3 1274.0 155.7 1279.1 157.6 1283.9 C159.4 1288.7 160.9 1294.0 162.4 1299.9 C163.8 1305.7 164.9 1312.1 166.3 1319.1 C167.8 1326.0 169.7 1334.6 171.1 1341.5 C172.6 1348.3 173.4 1353.7 175.1 1360.0 C176.9 1366.3 179.4 1372.3 181.5 1379.2 C183.7 1386.1 185.5 1394.7 187.9 1401.6 C190.3 1408.5 193.3 1414.9 195.9 1420.8 C198.6 1426.6 201.5 1433.0 203.9 1436.8 C206.3 1440.5 207.9 1444.2 210.3 1443.2 C212.7 1442.1 216.2 1435.4 218.3 1430.4 C220.5 1425.3 221.5 1417.0 223.1 1412.8 C224.7 1408.5 225.8 1406.9 227.9 1404.8 C230.1 1402.6 233.3 1401.2 235.9 1400.0 C238.6 1398.8 241.5 1397.0 243.9 1397.6 C246.3 1398.1 247.9 1402.4 250.3 1403.2 C252.7 1404.0 255.4 1403.8 258.3 1402.4 C261.2 1400.9 265.0 1396.6 267.9 1394.4 C270.8 1392.1 273.2 1391.6 275.9 1388.8 C278.6 1386.0 281.8 1381.1 283.9 1377.6 C286.0 1374.1 287.4 1371.6 288.7 1368.0 C290.0 1364.4 290.0 1358.7 291.9 1355.8 C293.7 1353.0 297.2 1350.6 299.9 1351.0 C302.5 1351.5 305.2 1355.9 307.9 1358.5 C310.5 1361.1 313.2 1364.3 315.9 1366.5 C318.5 1368.7 321.2 1370.7 323.9 1371.8 C326.5 1372.9 329.2 1370.9 331.9 1373.2 C334.5 1375.4 337.2 1381.2 339.9 1385.2 C342.5 1389.2 345.2 1394.9 347.8 1397.2 C350.5 1399.4 353.4 1396.5 355.8 1398.5 C358.3 1400.5 360.5 1406.0 362.5 1409.1 C364.5 1412.3 365.6 1416.7 367.8 1417.1 C370.1 1417.6 373.2 1412.7 375.8 1411.8 C378.5 1410.9 381.4 1413.1 383.8 1411.8 C386.3 1410.5 388.5 1407.4 390.5 1403.8 C392.5 1400.3 393.8 1393.8 395.8 1390.5 C397.8 1387.2 400.3 1386.9 402.5 1383.8 C404.7 1380.7 406.9 1376.1 409.1 1371.8 C411.4 1367.6 413.4 1361.2 415.8 1358.5 C418.3 1355.8 421.1 1356.1 423.8 1355.8 C426.5 1355.6 429.1 1357.8 431.8 1357.2 C434.5 1356.5 437.1 1353.4 439.8 1351.8 C442.5 1350.3 445.1 1347.8 447.8 1347.8 C450.5 1347.8 453.6 1349.2 455.8 1351.8 C458.0 1354.5 459.6 1358.1 461.1 1363.8 C462.7 1369.6 463.8 1385.2 465.1 1386.5 C466.4 1387.8 467.8 1376.3 469.1 1371.8 C470.4 1367.4 471.6 1362.3 473.1 1359.8 C474.7 1357.4 476.2 1356.5 478.4 1357.2 C480.7 1357.8 483.8 1362.3 486.4 1363.8 C489.1 1365.4 492.2 1367.8 494.4 1366.5 C496.7 1365.2 498.1 1358.5 499.8 1355.8 C501.5 1353.2 502.6 1350.1 504.6 1350.5 C506.6 1351.0 509.0 1355.8 511.8 1358.5 C514.5 1361.2 518.0 1364.1 521.1 1366.5 C524.2 1368.9 527.8 1370.7 530.4 1373.2 C533.1 1375.6 535.0 1378.3 537.1 1381.2 C539.2 1384.0 542.0 1388.9 542.9 1390.5" stroke="#3f4aa0" stroke-width="10"/>
<path d="M88.0 1535.9 C88.4 1530.6 89.6 1514.6 90.4 1503.9 C91.2 1493.3 91.9 1483.9 92.8 1471.9 C93.7 1460.0 94.8 1444.0 96.0 1432.0 C97.2 1420.0 98.5 1410.6 100.0 1400.0 C101.4 1389.3 103.2 1376.7 104.8 1368.0 C106.4 1359.3 108.1 1356.5 109.6 1347.9 C111.0 1339.2 112.2 1323.9 113.6 1315.9 C114.9 1307.9 115.8 1306.3 117.6 1299.9 C119.3 1293.5 121.8 1283.1 124.0 1277.5 C126.1 1271.9 128.2 1268.9 130.4 1266.3 C132.5 1263.7 134.6 1262.2 136.8 1261.8 C138.9 1261.4 141.0 1261.6 143.2 1263.9 C145.3 1266.2 147.4 1270.4 149.6 1275.9 C151.7 1281.4 153.8 1289.5 156.0 1296.7 C158.1 1303.9 160.2 1311.6 162.4 1319.1 C164.5 1326.5 166.9 1334.6 168.7 1341.5 C170.6 1348.3 171.9 1355.6 173.5 1360.0 C175.1 1364.4 176.5 1363.2 178.3 1368.0 C180.2 1372.8 182.6 1382.4 184.7 1388.8 C186.9 1395.2 188.7 1400.5 191.1 1406.4 C193.5 1412.2 196.5 1419.2 199.1 1424.0 C201.8 1428.8 204.2 1433.0 207.1 1435.2 C210.1 1437.3 213.8 1436.9 216.7 1436.8 C219.7 1436.6 220.7 1437.3 224.7 1434.4 C228.7 1431.4 236.2 1424.1 240.7 1419.2 C245.2 1414.2 248.4 1408.5 251.9 1404.8 C255.4 1401.0 258.0 1401.0 261.5 1396.8 C265.0 1392.5 269.0 1383.7 272.7 1379.2 C276.4 1374.7 280.2 1371.9 283.9 1369.6 C287.6 1367.3 290.8 1365.9 295.1 1365.6 C299.4 1365.3 304.9 1366.8 309.5 1368.0 C314.0 1369.2 318.0 1370.7 322.3 1372.8 C326.5 1374.9 330.8 1378.4 335.1 1380.8 C339.3 1383.2 343.7 1385.6 347.9 1387.2 C352.0 1388.8 357.8 1389.8 360.0 1390.4 C362.2 1390.9 358.8 1389.9 361.2 1390.5 C363.6 1391.0 369.6 1393.2 374.5 1393.7 C379.4 1394.1 385.2 1393.9 390.5 1393.2 C395.8 1392.4 401.2 1390.4 406.5 1389.2 C411.8 1387.9 417.1 1386.7 422.5 1385.7 C427.8 1384.7 433.1 1383.5 438.5 1383.0 C443.8 1382.6 449.8 1382.9 454.5 1383.0 C459.1 1383.2 464.5 1383.7 466.4 1383.8" stroke="#8fd0f2" stroke-width="9.5" stroke-dasharray="4.5 14"/>
<path d="M97.3 1984.6 C98.4 1983.8 101.8 1981.7 104.0 1979.8 C106.2 1977.9 108.4 1975.0 110.6 1973.1 C112.9 1971.2 115.3 1968.6 117.3 1968.6 C119.3 1968.6 120.9 1971.0 122.6 1973.1 C124.4 1975.2 126.2 1981.3 128.0 1981.1 C129.7 1980.9 131.5 1977.8 133.3 1971.8 C135.1 1965.8 137.1 1950.9 138.6 1945.1 C140.2 1939.3 141.3 1937.1 142.6 1937.1 C144.0 1937.1 145.3 1940.7 146.6 1945.1 C148.0 1949.6 149.4 1959.1 150.6 1963.8 C151.8 1968.4 152.7 1973.1 153.8 1973.1 C154.9 1973.1 155.8 1973.8 157.3 1963.8 C158.7 1953.8 160.6 1930.5 162.6 1913.1 C164.6 1895.8 167.3 1873.2 169.3 1859.8 C171.3 1846.5 173.1 1838.5 174.6 1833.2 C176.2 1827.8 177.3 1827.4 178.6 1827.8 C179.9 1828.3 181.0 1828.3 182.6 1835.8 C184.2 1843.4 186.2 1858.1 187.9 1873.2 C189.7 1888.3 191.7 1911.4 193.3 1926.5 C194.8 1941.6 196.1 1956.2 197.3 1963.8 C198.4 1971.3 198.8 1973.1 199.9 1971.8 C201.0 1970.4 202.6 1962.0 203.9 1955.8 C205.3 1949.6 206.7 1939.3 207.9 1934.5 C209.2 1929.6 210.1 1926.5 211.4 1926.5 C212.7 1926.5 214.1 1928.7 215.9 1934.5 C217.8 1940.2 220.4 1953.1 222.6 1961.1 C224.8 1969.1 227.5 1978.0 229.2 1982.4 C231.0 1986.9 231.9 1988.6 233.2 1987.8 C234.6 1986.9 235.7 1987.3 237.2 1977.1 C238.8 1966.9 240.6 1948.2 242.6 1926.5 C244.6 1904.7 246.8 1870.9 249.2 1846.5 C251.7 1822.1 255.0 1795.9 257.2 1779.9 C259.4 1763.9 261.0 1756.8 262.6 1750.6 C264.1 1744.3 265.2 1742.6 266.6 1742.6 C267.9 1742.6 269.0 1742.1 270.6 1750.6 C272.1 1759.0 274.1 1775.0 275.9 1793.2 C277.7 1811.4 279.4 1837.6 281.2 1859.8 C283.0 1882.0 285.0 1909.6 286.5 1926.5 C288.1 1943.3 289.6 1954.4 290.5 1961.1 C291.5 1967.8 291.5 1968.2 292.4 1966.4 C293.3 1964.7 294.7 1956.7 295.9 1950.4 C297.0 1944.2 298.3 1933.6 299.3 1929.1 C300.4 1924.7 300.8 1922.9 302.0 1923.8 C303.2 1924.7 304.9 1928.2 306.5 1934.5 C308.2 1940.7 310.3 1954.4 311.9 1961.1 C313.4 1967.8 314.5 1974.0 315.9 1974.4 C317.2 1974.9 318.5 1969.1 319.9 1963.8 C321.2 1958.4 322.6 1947.3 323.9 1942.5 C325.1 1937.6 326.1 1934.5 327.3 1934.5 C328.6 1934.5 329.9 1937.6 331.3 1942.5 C332.7 1947.3 334.7 1959.6 335.9 1963.8 C337.1 1968.0 337.4 1970.0 338.5 1967.8 C339.6 1965.6 341.0 1961.8 342.5 1950.4 C344.1 1939.1 346.1 1915.8 347.8 1899.8 C349.6 1883.8 351.6 1863.8 353.2 1854.5 C354.7 1845.2 355.8 1843.8 357.2 1843.8 C358.5 1843.8 359.6 1845.2 361.2 1854.5 C362.7 1863.8 364.7 1883.8 366.5 1899.8 C368.3 1915.8 370.1 1938.5 371.8 1950.4 C373.5 1962.4 375.1 1970.4 376.6 1971.8 C378.2 1973.1 379.8 1963.3 381.2 1958.4 C382.5 1953.6 383.6 1945.6 384.6 1942.5 C385.6 1939.3 386.1 1938.5 387.3 1939.8 C388.5 1941.1 390.3 1946.2 391.8 1950.4 C393.3 1954.7 395.0 1965.1 396.4 1965.1 C397.7 1965.1 398.4 1963.6 399.8 1950.4 C401.3 1937.3 403.2 1908.2 405.1 1886.5 C407.1 1864.7 409.8 1835.0 411.8 1819.9 C413.8 1804.7 415.8 1800.5 417.1 1795.9 C418.5 1791.2 418.7 1791.0 419.8 1791.9 C420.9 1792.8 422.3 1794.3 423.8 1801.2 C425.4 1808.1 427.1 1819.0 429.1 1833.2 C431.1 1847.4 433.8 1872.3 435.8 1886.5 C437.8 1900.7 439.6 1911.6 441.1 1918.5 C442.7 1925.4 443.8 1927.8 445.1 1927.8 C446.5 1927.8 447.6 1925.4 449.1 1918.5 C450.7 1911.6 452.7 1900.7 454.5 1886.5 C456.2 1872.3 457.9 1852.1 459.8 1833.2 C461.6 1814.3 463.6 1789.0 465.5 1773.0 C467.3 1757.0 469.1 1746.0 471.0 1737.4 C472.8 1728.7 474.6 1722.7 476.4 1720.9 C478.3 1719.1 480.1 1721.8 481.9 1726.4 C483.8 1731.0 485.6 1738.3 487.4 1748.3 C489.2 1758.4 491.1 1775.3 492.9 1786.7 C494.7 1798.1 496.6 1809.8 498.4 1816.9 C500.1 1823.9 501.6 1828.3 503.3 1829.2 C505.0 1830.1 507.1 1827.1 508.8 1822.3 C510.5 1817.5 511.8 1810.9 513.5 1800.4 C515.1 1789.9 517.1 1775.3 518.9 1759.3 C520.8 1743.3 522.6 1718.2 524.4 1704.5 C526.2 1690.8 528.1 1683.5 529.9 1677.1 C531.7 1670.7 533.8 1668.4 535.4 1666.1 C537.0 1663.8 537.9 1660.6 539.5 1663.4 C541.1 1666.1 543.2 1674.8 545.0 1682.5 C546.8 1690.3 548.6 1701.7 550.5 1710.0 C552.3 1718.2 554.1 1726.4 555.9 1731.9 C557.8 1737.4 559.8 1740.3 561.4 1742.9 C563.0 1745.4 564.2 1747.9 565.5 1747.0 C566.9 1746.0 568.1 1743.5 569.6 1737.4 C571.2 1731.2 573.3 1720.0 575.1 1710.0 C577.0 1699.9 578.8 1686.7 580.6 1677.1 C582.4 1667.5 584.2 1657.9 586.1 1652.4 C588.0 1646.9 590.3 1644.2 592.1 1644.2 C594.0 1644.2 595.3 1646.9 597.1 1652.4 C598.8 1657.9 600.7 1667.5 602.5 1677.1 C604.4 1686.7 606.2 1699.4 608.0 1710.0 C609.9 1720.5 611.7 1732.3 613.5 1740.1 C615.3 1747.9 617.5 1753.4 619.0 1756.6 C620.5 1759.8 620.9 1759.8 622.3 1759.3 C623.7 1758.8 625.5 1757.5 627.2 1753.8 C629.0 1750.2 630.9 1744.7 632.7 1737.4 C634.5 1730.1 636.4 1718.0 638.2 1710.0 C640.0 1702.0 642.1 1694.0 643.7 1689.4 C645.3 1684.8 646.4 1682.8 647.8 1682.5 C649.1 1682.3 650.3 1684.8 651.9 1688.0 C653.5 1691.2 655.5 1696.7 657.4 1701.7 C659.2 1706.8 661.0 1710.4 662.9 1718.2 C664.7 1725.9 666.5 1738.7 668.3 1748.3 C670.2 1757.9 672.0 1768.0 673.8 1775.7 C675.6 1783.5 677.8 1790.8 679.3 1794.9 C680.8 1799.0 681.2 1800.9 682.6 1800.4 C684.0 1800.0 685.8 1797.7 687.5 1792.2 C689.3 1786.7 691.2 1775.3 693.0 1767.5 C694.8 1759.8 696.7 1751.1 698.5 1745.6 C700.3 1740.1 702.1 1737.1 704.0 1734.6 C705.8 1732.1 707.9 1731.2 709.5 1730.5 C711.1 1729.8 712.0 1729.4 713.6 1730.5 C715.2 1731.7 717.4 1733.0 719.0 1737.4 C720.6 1741.7 721.8 1749.2 723.2 1756.6 C724.5 1763.9 725.9 1773.9 727.3 1781.2 C728.6 1788.5 729.8 1794.5 731.4 1800.4 C733.0 1806.4 735.0 1812.5 736.9 1816.9 C738.7 1821.2 740.5 1826.0 742.3 1826.5 C744.2 1826.9 746.0 1823.0 747.8 1819.6 C749.7 1816.2 751.5 1810.0 753.3 1805.9 C755.1 1801.8 757.0 1797.4 758.8 1794.9 C760.6 1792.4 762.4 1791.5 764.3 1790.8 C766.1 1790.1 767.9 1789.2 769.8 1790.8 C771.6 1792.4 773.4 1795.6 775.2 1800.4 C777.1 1805.2 778.9 1813.7 780.7 1819.6 C782.6 1825.5 784.4 1831.0 786.2 1836.1 C788.0 1841.1 789.9 1846.3 791.7 1849.8 C793.5 1853.2 794.9 1856.2 797.2 1856.6 C799.5 1857.1 802.7 1854.6 805.4 1852.5 C808.1 1850.4 811.1 1847.2 813.6 1844.3 C816.1 1841.3 818.2 1837.0 820.5 1834.7 C822.8 1832.4 825.3 1831.3 827.3 1830.6 C829.4 1829.8 831.0 1829.1 832.8 1830.0 C834.6 1830.9 836.8 1834.1 838.3 1836.1 C839.8 1838.0 841.3 1840.6 841.9 1841.5" stroke="#e2071c" stroke-width="10"/>
<path d="M437.1 1905.1 C438.2 1908.9 441.6 1926.9 443.8 1927.8 C446.0 1928.7 448.2 1921.8 450.5 1910.5 C452.7 1899.1 454.6 1882.7 457.1 1859.8 C459.6 1836.9 463.2 1793.0 465.5 1773.0 C467.8 1753.1 469.0 1748.3 471.0 1740.1 C472.9 1731.9 474.9 1725.0 477.0 1723.7 C479.1 1722.3 481.3 1725.9 483.3 1731.9 C485.3 1737.8 487.0 1748.8 488.8 1759.3 C490.6 1769.8 492.4 1785.8 494.3 1794.9 C496.1 1804.1 498.1 1809.6 499.7 1814.1 C501.3 1818.7 502.3 1822.8 503.9 1822.3 C505.5 1821.9 507.5 1818.2 509.3 1811.4 C511.2 1804.5 513.0 1793.6 514.8 1781.2 C516.7 1768.9 518.5 1752.0 520.3 1737.4 C522.1 1722.7 524.2 1704.0 525.8 1693.5 C527.4 1683.0 527.8 1679.3 529.9 1674.3 C532.0 1669.3 535.6 1662.0 538.1 1663.4 C540.6 1664.7 542.7 1673.9 545.0 1682.5 C547.3 1691.2 549.5 1704.5 551.8 1715.4 C554.1 1726.4 556.2 1741.0 558.7 1748.3 C561.2 1755.6 564.4 1761.1 566.9 1759.3 C569.4 1757.5 571.7 1747.4 573.8 1737.4 C575.8 1727.3 577.2 1711.8 579.2 1699.0 C581.3 1686.2 583.8 1668.8 586.1 1660.6 C588.4 1652.4 590.7 1649.6 592.9 1649.6 C595.2 1649.6 597.5 1653.3 599.8 1660.6 C602.1 1667.9 604.4 1680.7 606.7 1693.5 C608.9 1706.3 611.0 1726.9 613.5 1737.4 C616.0 1747.9 619.0 1755.2 621.7 1756.6 C624.5 1757.9 627.2 1752.9 630.0 1745.6 C632.7 1738.3 635.4 1722.3 638.2 1712.7 C640.9 1703.1 643.9 1692.6 646.4 1688.0 C648.9 1683.5 651.0 1682.5 653.3 1685.3 C655.5 1688.0 657.8 1695.8 660.1 1704.5 C662.4 1713.2 664.7 1726.4 667.0 1737.4 C669.2 1748.3 671.3 1763.0 673.8 1770.3 C676.3 1777.6 678.8 1783.1 682.0 1781.2 C685.2 1779.4 689.8 1766.6 693.0 1759.3 C696.2 1752.0 698.5 1741.9 701.2 1737.4 C704.0 1732.8 706.7 1730.1 709.5 1731.9 C712.2 1733.7 715.2 1740.1 717.7 1748.3 C720.2 1756.6 722.0 1770.7 724.5 1781.2 C727.0 1791.7 729.8 1804.5 732.8 1811.4 C735.7 1818.2 739.4 1822.3 742.3 1822.3 C745.3 1822.3 747.6 1816.2 750.6 1811.4 C753.5 1806.6 757.0 1797.2 760.2 1793.6 C763.4 1789.9 766.8 1787.9 769.8 1789.5 C772.7 1791.1 775.2 1796.3 778.0 1803.2 C780.7 1810.0 783.7 1822.3 786.2 1830.6 C788.7 1838.8 791.3 1847.7 793.1 1852.5 C794.8 1857.3 796.0 1858.2 796.6 1859.4" stroke="#9c2163" stroke-width="8.5" stroke-dasharray="2 10.5"/>
</g>
<g fill="none" stroke-linecap="round" stroke-width="10">
<path d="M505 1140.8 H623.5" stroke="#000"/><path d="M505 1316 H623.5" stroke="#3f4aa0"/><path d="M505 1542 H623.5" stroke="#007c34"/><path d="M505 1910 H623.5" stroke="#e2071c"/>
</g>
<g font-size="31"><text x="641" y="1150.5">Profile 1</text><text x="641" y="1325.5">Profile 2</text><text x="641" y="1552">Profile 4</text><text x="641" y="1920">Profile 3</text></g>
<path d="M280.7 1164.0 H316.7" stroke="#000" stroke-width="8" stroke-linecap="round" fill="none"/><polygon points="242.7,1164.0 280.7,1151.1 280.7,1176.8" fill="#000" stroke="#000" stroke-width="3" stroke-linejoin="round"/>
<path d="M403.6 1415.4 H423.1" stroke="#3f4aa0" stroke-width="8" stroke-linecap="round" fill="none"/><polygon points="460.7,1415.4 423.1,1402.1 423.1,1428.7" fill="#3f4aa0" stroke="#3f4aa0" stroke-width="3" stroke-linejoin="round"/>
<path d="M225.5 1546.8 H253.8" stroke="#007c34" stroke-width="8" stroke-linecap="round" fill="none"/><polygon points="188.3,1546.8 225.5,1534.5 225.5,1559.0" fill="#007c34" stroke="#007c34" stroke-width="3" stroke-linejoin="round"/>
<path d="M536.8 1810.0 H578.4" stroke="#e2071c" stroke-width="8" stroke-linecap="round" fill="none"/><polygon points="614.8,1810.0 578.4,1797.1 578.4,1822.9" fill="#e2071c" stroke="#e2071c" stroke-width="3" stroke-linejoin="round"/>
<rect x="86" y="1068.7" width="756.5" height="925.2" fill="none" stroke="#000" stroke-width="3.3"/>
<path d="M99.4 1993 v-11 M99.4 1069.5 v10 M166.9 1993 v-6.5 M166.9 1069.5 v10 M234.3 1993 v-11 M234.3 1069.5 v10 M301.8 1993 v-6.5 M301.8 1069.5 v10 M369.2 1993 v-11 M369.2 1069.5 v10 M436.6 1993 v-6.5 M436.6 1069.5 v10 M504.1 1993 v-11 M504.1 1069.5 v10 M571.6 1993 v-6.5 M571.6 1069.5 v10 M639.0 1993 v-11 M639.0 1069.5 v10 M706.5 1993 v-6.5 M706.5 1069.5 v10 M773.9 1993 v-11 M773.9 1069.5 v10 M87 1160.8 h10.5 M87 1183.9 h5.5 M87 1207.0 h10.5 M87 1230.1 h5.5 M87 1253.2 h10.5 M87 1276.3 h5.5 M87 1299.4 h10.5 M87 1507.9 h10.5 M87 1531.0 h5.5 M87 1554.0 h10.5 M87 1577.1 h5.5 M87 1600.2 h10.5 M87 1623.2 h5.5 M87 1646.3 h10.5 M87 1669.4 h5.5 M87 1692.5 h10.5 M841.5 1315.3 h-11 M841.5 1346.0 h-5.5 M841.5 1376.6 h-11 M841.5 1407.2 h-5.5 M841.5 1437.9 h-11 M841.5 1685.3 h-11 M841.5 1716.1 h-5.5 M841.5 1747.0 h-11 M841.5 1777.8 h-5.5 M841.5 1808.7 h-11 M841.5 1839.5 h-5.5 M841.5 1870.4 h-11 M841.5 1901.2 h-5.5 M841.5 1932.1 h-11" stroke="#000" stroke-width="2.7" fill="none"/>
<g font-size="28.5" text-anchor="end">
<text x="70.5" y="1170.8">14</text>
<text x="70.5" y="1217.0">12</text>
<text x="70.5" y="1263.2">10</text>
<text x="70.5" y="1309.4">8</text>
<text x="70.5" y="1517.9">10</text>
<text x="70.5" y="1564.1">9</text>
<text x="70.5" y="1610.2">8</text>
<text x="70.5" y="1656.4">7</text>
<text x="70.5" y="1702.5">6</text>
</g><g font-size="28.5">
<text x="857" y="1325.3">10</text>
<text x="857" y="1386.6">8</text>
<text x="857" y="1447.9">6</text>
<text x="857" y="1695.3">20</text>
<text x="857" y="1757.0">16</text>
<text x="857" y="1818.7">12</text>
<text x="857" y="1880.4">8</text>
<text x="857" y="1942.1">4</text>
</g><g font-size="28.5" text-anchor="middle">
<text x="99.4" y="2031.3">0</text>
<text x="234.3" y="2031.3">1</text>
<text x="369.2" y="2031.3">2</text>
<text x="504.1" y="2031.3">3</text>
<text x="639.0" y="2031.3">4</text>
<text x="773.9" y="2031.3">5</text>
</g>
<text x="397" y="2068.7" font-size="30"><tspan class="it">x</tspan> (<tspan class="ser" font-size="30">μ</tspan>m)</text>
</g>
<!--END C-->
<!--BEGIN D-->
<!-- ================= PANEL D ================= -->
<g id="panelD">
<text x="968.3" y="1091.9" class="b" font-size="46.5">D</text>
<polygon points="1158,1294.8 1261.5,1276 1456,1413 1350,1434.5" fill="#bde3f0"/>
<polygon points="1261.5,1266 1621.2,1200.5 1814.2,1335.3 1455,1398.5 1455,1412" fill="#fdc800"/>
<path d="M1270 1279 L1455 1398.5 V1412" fill="none" stroke="#000" stroke-width="1.3"/>
<path d="M1263.7 1157.3 Q1302 1162 1343 1152.5" fill="none" stroke="#000" stroke-width="1.5"/>
<path d="M1327.6 1115.7 L1340.4 1127.4 L1333 1141.3" fill="none" stroke="#000" stroke-width="2"/>
<path d="M1390.5 1351.7 L1413 1348.1 L1399.7 1337.4" fill="none" stroke="#000" stroke-width="2"/>
<path d="M1314.8 1300.1 Q1370 1298 1396 1274.5" fill="none" stroke="#e2071c" stroke-width="1.8"/>
<path d="M1308.4 1308.7 L1302 1318.3" fill="none" stroke="#e2071c" stroke-width="1.5"/>
<path d="M1360.7 1334.2 Q1392 1329 1411 1314" fill="none" stroke="#3f4aa0" stroke-width="1.5"/>
<path d="M1353.2 1347 L1347.9 1355.6" fill="none" stroke="#3f4aa0" stroke-width="1.5"/>
<path d="M1459.8 1262 V1326" fill="none" stroke="#3f4aa0" stroke-width="1.5" stroke-dasharray="5 3"/>
<path d="M1374.5 1342.3 L1655 1290.8" fill="none" stroke="#e2071c" stroke-width="2" stroke-dasharray="6 3"/>
<path d="M1261.5 1278.0 L1262.2 1069.5" stroke="#000" stroke-width="5" fill="none" /><polygon points="1262.3,1053.5 1270.7,1071.5 1262.2,1071.5 1253.7,1071.5" fill="#000"/>
<path d="M1260.0 1275.5 L1659.3 1206.3" stroke="#000" stroke-width="5.3" fill="none" /><polygon points="1674.1,1203.7 1658.8,1215.0 1657.3,1206.6 1655.9,1198.2" fill="#000"/>
<path d="M1260.0 1272.0 L1473.7 1424.1" stroke="#000" stroke-width="5.5" fill="none" /><polygon points="1487.5,1434.0 1466.8,1430.3 1472.0,1423.0 1477.2,1415.6" fill="#000"/>
<path d="M1261.5 1077.3 L1445.9 1247.8" stroke="#3f4aa0" stroke-width="6" fill="none" /><polygon points="1459.8,1260.7 1439.0,1252.3 1444.4,1246.4 1449.8,1240.6" fill="#3f4aa0"/>
<path d="M1320.2 1129.6 L1345.3 1080.0" stroke="#4fae32" stroke-width="7.5" fill="none" /><polygon points="1353.9,1063.0 1352.4,1085.8 1344.4,1081.7 1336.4,1077.7" fill="#4fae32"/>
<path d="M1262.6 1264.9 L1642.2 1288.4" stroke="#e2071c" stroke-width="6" fill="none" /><polygon points="1662.2,1289.6 1639.7,1296.2 1640.2,1288.2 1640.7,1280.3" fill="#e2071c"/>
<path d="M1464.5 1330.6 L1638.6 1301.6" stroke="#7f3f98" stroke-width="6" fill="none" /><polygon points="1656.4,1298.6 1637.9,1309.3 1636.7,1301.9 1635.4,1294.5" fill="#7f3f98"/>
<path d="M1262.6 1269.2 L1440.6 1321.4" stroke="#3f4aa0" stroke-width="6" fill="none" /><polygon points="1458.8,1326.8 1436.4,1328.6 1438.7,1320.9 1440.9,1313.2" fill="#3f4aa0"/>
<text x="1231" y="1104" font-size="29" class="it">z</text>
<text x="1637" y="1192" font-size="29" class="it">y</text>
<text x="1445" y="1442.5" font-size="29" class="it">x</text>
<text x="1361" y="1099.7" font-size="31" class="it" style="fill:#4fae32">E</text><path d="M1367.0 1071.0 H1384.0 M1378.0 1066.5 L1384.5 1071.0 L1378.0 1075.5" fill="none" stroke="#4fae32" stroke-width="1.8"/>
<text x="1298.5" y="1193.5" font-size="29" class="it ser">θ</text>
<text x="1443" y="1209" font-size="30" class="it" style="fill:#3f4aa0">k</text><path d="M1444.0 1182.0 H1463.0 M1457.0 1177.5 L1463.5 1182.0 L1457.0 1186.5" fill="none" stroke="#3f4aa0" stroke-width="1.8"/>
<text x="1616.5" y="1256.5" font-size="30" class="it" style="fill:#e2071c">k</text><text x="1630" y="1267.2" font-size="17" style="fill:#e2071c">SPP</text><path d="M1619.0 1224.5 H1637.0 M1631.0 1220.0 L1637.5 1224.5 L1631.0 1229.0" fill="none" stroke="#e2071c" stroke-width="1.8"/>
<text x="1612.5" y="1347.2" font-size="30" class="it" style="fill:#7f3f98">k</text><path d="M1616.0 1318.0 H1635.0 M1629.0 1313.5 L1635.5 1318.0 L1629.0 1322.5" fill="none" stroke="#7f3f98" stroke-width="1.8"/>
<text x="1437" y="1366.2" font-size="30" class="it" style="fill:#3f4aa0">k</text><text x="1449.5" y="1374.7" font-size="15" style="fill:#3f4aa0">||</text><path d="M1438.0 1340.6 H1457.0 M1451.0 1336.1 L1457.5 1340.6 L1451.0 1345.1" fill="none" stroke="#3f4aa0" stroke-width="1.8"/>
<text x="1196" y="1310.8" font-size="30">Edge</text>
<text x="1733" y="1330" font-size="29">Au</text>
<text x="1277" y="1335.3" font-size="30" class="it ser" style="fill:#e2071c">β</text>
<text x="1323" y="1372.6" font-size="30" class="it ser" style="fill:#3f4aa0">ϕ</text>
</g>
<!--END D-->
<!--BEGIN E-->
<!-- ================= PANEL E ================= -->
<g id="panelE">
<text x="968.3" y="1485" class="b" font-size="46.5">E</text>
<g fill="none" stroke="#000" stroke-width="1.6" stroke-dasharray="2.5 6">
<path d="M1317.2 1520.0 V1792"/>
<path d="M1482.4 1520.0 V1792"/>
<path d="M1647.6 1520.0 V1792"/>
</g>
<g fill="none" stroke="#aaa" stroke-width="1.8" stroke-dasharray="3 7.5">
<path d="M1172 1661.2 H1318 M1352 1661.2 H1652 M1733 1661.2 H1809.7"/>
<path d="M1172 1819.0 H1307 M1703 1819.0 H1809.7"/>
</g>
<clipPath id="cE"><rect x="1152.0" y="1504.0" width="661.7" height="471.3"/></clipPath>
<path d="M1151.4 1941.9 C1152.4 1941.6 1154.5 1941.0 1157.3 1940.0 C1160.0 1939.0 1164.4 1937.8 1167.9 1936.0 C1171.5 1934.2 1175.0 1931.8 1178.6 1929.1 C1182.1 1926.4 1185.7 1923.8 1189.3 1919.8 C1192.8 1915.8 1195.9 1911.5 1199.9 1905.1 C1203.9 1898.7 1208.8 1890.0 1213.2 1881.1 C1217.7 1872.2 1222.1 1862.2 1226.6 1851.8 C1231.0 1841.4 1235.5 1830.0 1239.9 1818.5 C1244.3 1806.9 1248.8 1794.7 1253.2 1782.5 C1257.7 1770.3 1262.1 1757.6 1266.5 1745.2 C1271.0 1732.7 1275.4 1720.3 1279.9 1707.9 C1284.3 1695.4 1288.8 1682.1 1293.2 1670.6 C1297.6 1659.0 1302.1 1648.3 1306.5 1638.6 C1311.0 1628.8 1315.4 1619.5 1319.9 1611.9 C1324.3 1604.4 1328.7 1599.0 1333.2 1593.3 C1337.6 1587.5 1342.1 1581.7 1346.5 1577.3 C1350.9 1572.8 1354.9 1569.9 1359.8 1566.6 C1364.7 1563.3 1370.5 1559.9 1375.8 1557.3 C1381.2 1554.6 1385.6 1552.6 1391.8 1550.6 C1398.0 1548.6 1405.1 1546.8 1413.1 1545.3 C1421.1 1543.8 1430.9 1542.7 1439.8 1541.8 C1448.7 1540.9 1457.6 1540.4 1466.4 1540.0 C1475.3 1539.6 1487.5 1539.4 1493.1 1539.4 C1498.7 1539.4 1494.8 1539.6 1500.0 1540.0 C1505.1 1540.4 1515.5 1540.7 1524.0 1541.8 C1532.4 1542.9 1542.6 1544.7 1550.6 1546.6 C1558.6 1548.5 1565.3 1550.6 1572.0 1553.3 C1578.6 1555.9 1584.8 1559.1 1590.6 1562.6 C1596.4 1566.2 1601.3 1569.9 1606.6 1574.6 C1611.9 1579.3 1617.3 1584.4 1622.6 1590.6 C1627.9 1596.8 1633.7 1604.8 1638.6 1611.9 C1643.5 1619.0 1647.5 1625.2 1651.9 1633.2 C1656.4 1641.2 1660.8 1650.6 1665.2 1659.9 C1669.7 1669.2 1674.1 1679.0 1678.6 1689.2 C1683.0 1699.4 1687.4 1710.5 1691.9 1721.2 C1696.3 1731.9 1700.8 1742.5 1705.2 1753.2 C1709.7 1763.8 1714.1 1774.5 1718.5 1785.2 C1723.0 1795.8 1727.4 1806.9 1731.9 1817.1 C1736.3 1827.4 1740.8 1836.7 1745.2 1846.5 C1749.6 1856.2 1754.1 1866.9 1758.5 1875.8 C1763.0 1884.7 1767.4 1892.2 1771.8 1899.8 C1776.3 1907.3 1781.2 1915.3 1785.2 1921.1 C1789.2 1926.9 1792.7 1931.1 1795.8 1934.4 C1798.9 1937.7 1800.9 1939.4 1803.8 1941.1 C1806.8 1942.8 1812.0 1944.0 1813.7 1944.5" fill="none" stroke="#e2071c" stroke-width="9.5" clip-path="url(#cE)"/>
<circle cx="1169.3" cy="1935.7" r="14.8" fill="#000"/>
<circle cx="1334.5" cy="1600.7" r="14.8" fill="#000"/>
<circle cx="1499.8" cy="1540.0" r="14.8" fill="#000"/>
<circle cx="1665.2" cy="1668.4" r="14.8" fill="#000"/>
<circle cx="1355.3" cy="1815.8" r="14.8" fill="#000"/>
<path d="M1309 1868.6 H1402" stroke="#e2071c" stroke-width="10" stroke-linecap="round" fill="none"/>
<rect x="1152.0" y="1504.0" width="661.7" height="471.3" fill="none" stroke="#000" stroke-width="3"/>
<path d="M1234.6 1504.0 v8.5 M1234.6 1975.3 v-8.5 M1317.2 1504.0 v15 M1317.2 1975.3 v-15 M1399.8 1504.0 v8.5 M1399.8 1975.3 v-8.5 M1482.4 1504.0 v15 M1482.4 1975.3 v-15 M1565.0 1504.0 v8.5 M1565.0 1975.3 v-8.5 M1647.6 1504.0 v15 M1647.6 1975.3 v-15 M1730.2 1504.0 v8.5 M1730.2 1975.3 v-8.5 M1152.0 1582.3 h9 M1152.0 1661.2 h18 M1152.0 1740.1 h9 M1152.0 1819.0 h18 M1152.0 1897.9 h9 M1813.7 1536.4 h17 M1813.7 1602.5 h17 M1813.7 1701.7 h17 M1813.7 1767.8 h17 M1813.7 1833.9 h17 M1813.7 1944.1 h17" stroke="#000" stroke-width="2.7" fill="none"/>
<g font-size="30.5">
<text x="1846" y="1546.9" textLength="70.4" lengthAdjust="spacing">6000</text>
<text x="1846" y="1613.0" textLength="70.4" lengthAdjust="spacing">2000</text>
<text x="1846" y="1712.2" textLength="70.4" lengthAdjust="spacing">1000</text>
<text x="1846" y="1778.3" textLength="52.8" lengthAdjust="spacing">750</text>
<text x="1846" y="1844.4" textLength="52.8" lengthAdjust="spacing">600</text>
<text x="1846" y="1954.6" textLength="52.8" lengthAdjust="spacing">450</text>
</g>
<g font-size="30.5" text-anchor="end"><text x="1140.5" y="1671.7">5</text><text x="1140" y="1829.5">10</text><text x="1140" y="1987.3">15</text></g>
<g font-size="30.5" text-anchor="middle"><text x="1144.4" y="2006.5">–90</text><text x="1318.3" y="2006.5">0</text><text x="1481" y="2006.5">90</text><text x="1645" y="2006.5">180</text><text x="1812.5" y="2006.5">270</text></g>
<g font-size="30.5"><text x="1210.5" y="1953.6">1</text><text x="1693.5" y="1682.5">2</text><text x="1521" y="1600">3</text><text x="1325.5" y="1674.6">4</text></g>
<text x="1414.5" y="1831.3" font-size="30.5">Exp.</text>
<text x="1414.5" y="1881" font-size="30.5">Fit (Eq. 2)</text>
<text x="1341" y="1934.5" font-size="29" textLength="298" lengthAdjust="spacing"><tspan class="it ser" font-size="30">ϕ</tspan><tspan font-size="17" dy="8">1</tspan><tspan dy="-8"> = –80.3°, </tspan><tspan class="it ser" font-size="30">θ</tspan> = 59.4°</text>
<text x="1463" y="2056" font-size="30" text-anchor="middle"><tspan class="it ser" font-size="31">ϕ</tspan> (°)</text>
<text font-size="30" text-anchor="middle" transform="translate(1080 1798) rotate(-90)"><tspan class="it">K</tspan> (<tspan class="ser">μ</tspan>m<tspan font-size="18" dy="-10">−1</tspan><tspan dy="10">)</tspan></text>
<text font-size="30" text-anchor="middle" transform="translate(1961 1741) rotate(-90)"><tspan class="ser" font-size="31">Λ</tspan> (nm)</text>
</g>
<!--END E-->
</svg></body></html>
